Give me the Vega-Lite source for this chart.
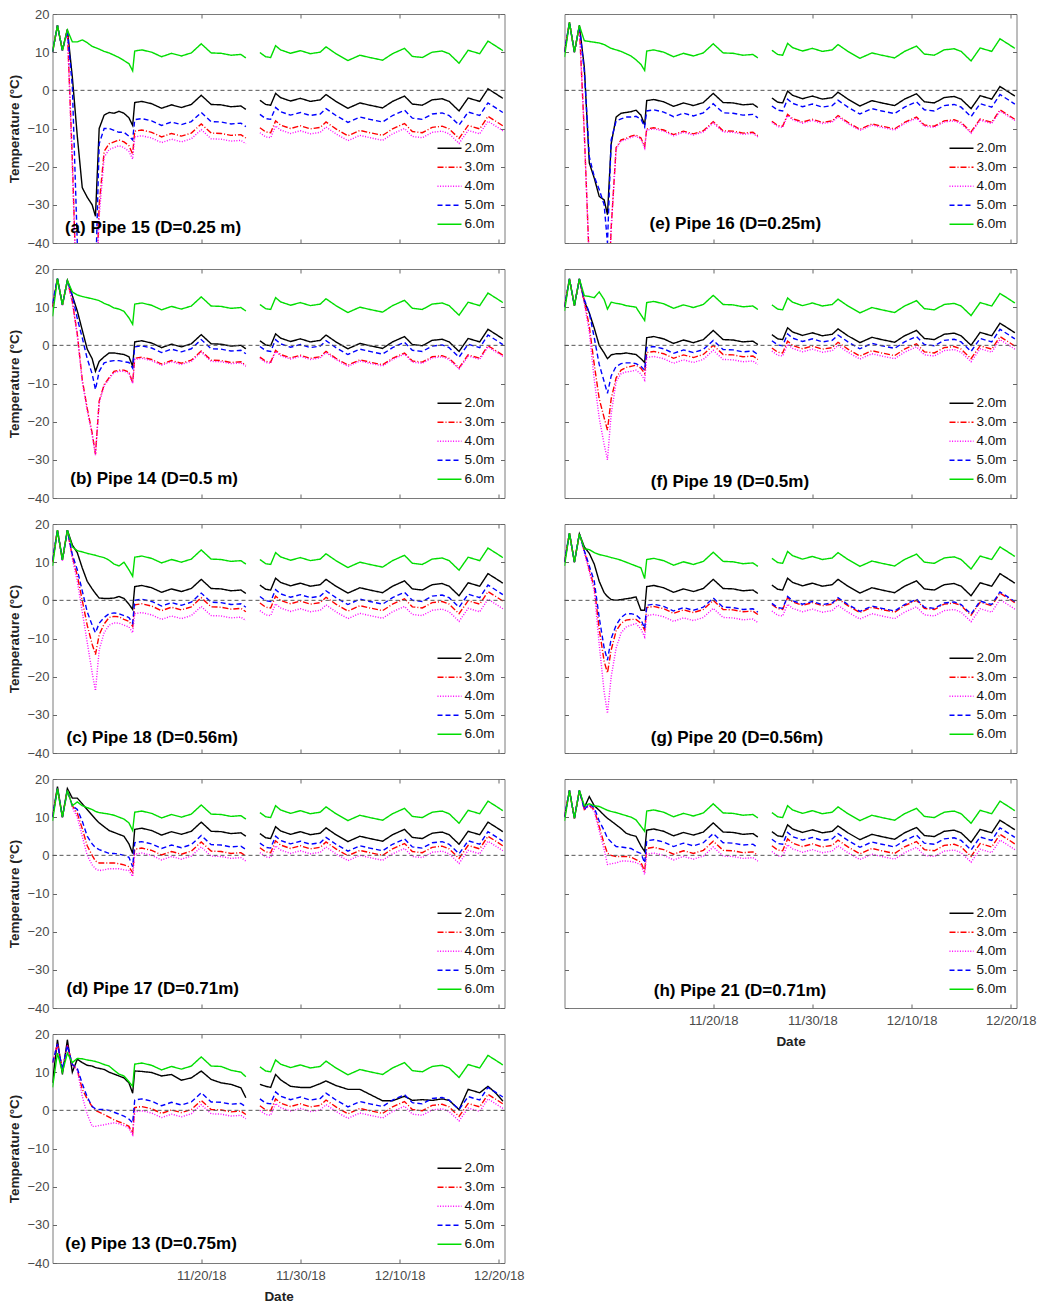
{
"$schema":"https://vega.github.io/schema/vega-lite/v6.json",
"padding":{"left":6.5,"top":7,"right":5,"bottom":5},
"config":{
"font":"Liberation Sans",
"view":{"stroke":"#7a7a7a","strokeWidth":1},
"axis":{"grid":false,"domain":false,"tickColor":"#666666","tickSize":-4,"labelPadding":7.5,"labelFont":"Liberation Sans","labelFontSize":13,"labelColor":"#4a4a4a","titleFont":"Liberation Sans","titleFontSize":13.5,"titleFontWeight":"bold","titleColor":"#222222","titlePadding":5},
"axisX":{"labelPadding":10,"titlePadding":7},
"legend":{"orient":"bottom-right","offset":9,"padding":0,"symbolType":"stroke","symbolSize":576,"symbolStrokeWidth":1.5,"labelFontSize":13.5,"labelFont":"Liberation Sans","labelColor":"#111111","rowPadding":0,"clipHeight":18.4,"labelOffset":2}
},
"datasets":{
"p15":[
{"t":"2018-11-05T00:00","m2":10,"m3":10,"m4":10,"m5":10,"m6":10},
{"t":"2018-11-05T12:00","m2":17,"m3":17,"m4":17,"m5":17,"m6":17},
{"t":"2018-11-06T00:00","m2":10.5,"m3":10.5,"m4":10.5,"m5":10.5,"m6":10.5},
{"t":"2018-11-06T12:00","m2":16,"m3":15.8,"m4":15.5,"m5":15.5,"m6":15.8},
{"t":"2018-11-07T00:00","m2":3.5,"m3":-18,"m4":-20,"m5":1,"m6":12.7},
{"t":"2018-11-07T12:00","m2":-12,"m3":-60,"m4":-60,"m5":-40,"m6":12.7},
{"t":"2018-11-08T00:00","m2":-25.5,"m3":-60,"m4":-60,"m5":-60,"m6":13.2},
{"t":"2018-11-08T12:00","m2":-28,"m3":-60,"m4":-60,"m5":-60,"m6":12.5},
{"t":"2018-11-09T00:00","m2":-30,"m3":-60,"m4":-60,"m5":-60,"m6":11.5},
{"t":"2018-11-09T08:00","m2":-33,"m3":-60,"m4":-60,"m5":-50,"m6":11.2},
{"t":"2018-11-09T17:00","m2":-10,"m3":-30,"m4":-33,"m5":-14,"m6":10.8},
{"t":"2018-11-10T05:00","m2":-6.5,"m3":-16,"m4":-17.5,"m5":-10,"m6":10.2},
{"t":"2018-11-10T17:00","m2":-5.8,"m3":-14,"m4":-15.5,"m5":-10,"m6":9.8},
{"t":"2018-11-11T05:00","m2":-6,"m3":-13.5,"m4":-15,"m5":-10.5,"m6":9.2},
{"t":"2018-11-11T17:00","m2":-5.5,"m3":-13,"m4":-14.5,"m5":-11,"m6":8.6},
{"t":"2018-11-12T05:00","m2":-6,"m3":-13.5,"m4":-15,"m5":-11,"m6":7.8},
{"t":"2018-11-12T17:00","m2":-7.2,"m3":-14.5,"m4":-16,"m5":-12,"m6":7},
{"t":"2018-11-13T02:00","m2":-9.2,"m3":-16.7,"m4":-18,"m5":-13,"m6":5.1},
{"t":"2018-11-13T07:00","m2":-3.2,"m3":-10.7,"m4":-12.2,"m5":-7.7,"m6":10.3},
{"t":"2018-11-14T00:00","m2":-2.9,"m3":-10.4,"m4":-11.9,"m5":-7.4,"m6":10.6},
{"t":"2018-11-15T00:00","m2":-3.5,"m3":-11,"m4":-12.5,"m5":-8,"m6":10},
{"t":"2018-11-16T00:00","m2":-4.7,"m3":-12.2,"m4":-13.7,"m5":-9.2,"m6":8.8},
{"t":"2018-11-17T00:00","m2":-3.8,"m3":-11.3,"m4":-12.8,"m5":-8.3,"m6":9.7},
{"t":"2018-11-18T00:00","m2":-4.5,"m3":-12,"m4":-13.5,"m5":-9,"m6":9},
{"t":"2018-11-19T00:00","m2":-3.7,"m3":-11.2,"m4":-12.7,"m5":-8.2,"m6":9.8},
{"t":"2018-11-20T00:00","m2":-1.3,"m3":-8.8,"m4":-10.3,"m5":-5.8,"m6":12.2},
{"t":"2018-11-21T00:00","m2":-3.7,"m3":-11.2,"m4":-12.7,"m5":-8.2,"m6":9.8},
{"t":"2018-11-22T00:00","m2":-3.8,"m3":-11.3,"m4":-12.8,"m5":-8.3,"m6":9.7},
{"t":"2018-11-23T00:00","m2":-4.3,"m3":-11.8,"m4":-13.3,"m5":-8.8,"m6":9.2},
{"t":"2018-11-24T00:00","m2":-4.1,"m3":-11.6,"m4":-13.1,"m5":-8.6,"m6":9.4},
{"t":"2018-11-24T12:00","m2":-5,"m3":-12.5,"m4":-14,"m5":-9.5,"m6":8.5},
{"t":"2018-11-25T05:00","m2":null,"m3":null,"m4":null,"m5":null,"m6":null},
{"t":"2018-11-25T22:00","m2":-2.6,"m3":-9.8,"m4":-11.1,"m5":-6.3,"m6":9.9},
{"t":"2018-11-26T12:00","m2":-3.7,"m3":-10.9,"m4":-12.2,"m5":-7.4,"m6":8.8},
{"t":"2018-11-27T00:00","m2":-3.9,"m3":-11.1,"m4":-12.4,"m5":-7.6,"m6":8.6},
{"t":"2018-11-27T12:00","m2":-0.8,"m3":-8,"m4":-9.3,"m5":-4.5,"m6":11.7},
{"t":"2018-11-28T00:00","m2":-1.9,"m3":-9.1,"m4":-10.4,"m5":-5.6,"m6":10.6},
{"t":"2018-11-29T00:00","m2":-2.8,"m3":-10,"m4":-11.3,"m5":-6.5,"m6":9.7},
{"t":"2018-11-30T00:00","m2":-2.1,"m3":-9.3,"m4":-10.6,"m5":-5.8,"m6":10.4},
{"t":"2018-12-01T00:00","m2":-2.9,"m3":-10.1,"m4":-11.4,"m5":-6.6,"m6":9.6},
{"t":"2018-12-02T00:00","m2":-2.5,"m3":-9.7,"m4":-11,"m5":-6.2,"m6":10},
{"t":"2018-12-02T14:00","m2":-1.1,"m3":-8.3,"m4":-9.6,"m5":-4.8,"m6":11.4},
{"t":"2018-12-03T14:00","m2":-2.9,"m3":-10.1,"m4":-11.4,"m5":-6.6,"m6":9.6},
{"t":"2018-12-04T19:00","m2":-4.7,"m3":-11.9,"m4":-13.2,"m5":-8.4,"m6":7.8},
{"t":"2018-12-06T00:00","m2":-3.3,"m3":-10.5,"m4":-11.8,"m5":-7,"m6":9.2},
{"t":"2018-12-07T00:00","m2":-3.9,"m3":-11.1,"m4":-12.4,"m5":-7.6,"m6":8.6},
{"t":"2018-12-08T07:00","m2":-4.6,"m3":-11.8,"m4":-13.1,"m5":-8.3,"m6":7.9},
{"t":"2018-12-09T07:00","m2":-2.9,"m3":-10.1,"m4":-11.4,"m5":-6.6,"m6":9.6},
{"t":"2018-12-10T12:00","m2":-1.5,"m3":-8.7,"m4":-10,"m5":-5.2,"m6":11},
{"t":"2018-12-11T07:00","m2":-3.6,"m3":-10.8,"m4":-12.1,"m5":-7.3,"m6":8.9},
{"t":"2018-12-12T07:00","m2":-3.9,"m3":-11.1,"m4":-12.4,"m5":-7.6,"m6":8.6},
{"t":"2018-12-13T07:00","m2":-2.5,"m3":-9.7,"m4":-11,"m5":-6.2,"m6":10},
{"t":"2018-12-14T07:00","m2":-2.2,"m3":-9.4,"m4":-10.7,"m5":-5.9,"m6":10.3},
{"t":"2018-12-15T00:00","m2":-2.9,"m3":-10.1,"m4":-11.4,"m5":-6.6,"m6":9.6},
{"t":"2018-12-16T00:00","m2":-5.4,"m3":-12.6,"m4":-13.9,"m5":-9.1,"m6":7.1},
{"t":"2018-12-16T22:00","m2":-2,"m3":-9.2,"m4":-10.5,"m5":-5.7,"m6":10.5},
{"t":"2018-12-18T02:00","m2":-2.9,"m3":-10.1,"m4":-11.4,"m5":-6.6,"m6":9.6},
{"t":"2018-12-18T22:00","m2":0.4,"m3":-6.8,"m4":-8.1,"m5":-3.3,"m6":12.9},
{"t":"2018-12-19T17:00","m2":-0.9,"m3":-8.1,"m4":-9.4,"m5":-4.6,"m6":11.6},
{"t":"2018-12-20T10:00","m2":-2.1,"m3":-9.3,"m4":-10.6,"m5":-5.8,"m6":10.4}
],
"p14":[
{"t":"2018-11-05T00:00","m2":10,"m3":10,"m4":10,"m5":11,"m6":7.6},
{"t":"2018-11-05T12:00","m2":17.5,"m3":17.5,"m4":17.3,"m5":17.5,"m6":17.5},
{"t":"2018-11-06T00:00","m2":10.6,"m3":10.6,"m4":10.5,"m5":10.6,"m6":10.6},
{"t":"2018-11-06T12:00","m2":17,"m3":17,"m4":16.8,"m5":17,"m6":17},
{"t":"2018-11-07T00:00","m2":13,"m3":11.5,"m4":11.2,"m5":13,"m6":14},
{"t":"2018-11-07T12:00","m2":9,"m3":3,"m4":2.6,"m5":7,"m6":13.2},
{"t":"2018-11-08T00:00","m2":4,"m3":-9,"m4":-9.5,"m5":2,"m6":12.8},
{"t":"2018-11-08T12:00","m2":-1,"m3":-16.5,"m4":-17,"m5":-3.5,"m6":12.5},
{"t":"2018-11-09T00:00","m2":-3.5,"m3":-23,"m4":-23.5,"m5":-7.5,"m6":12.2},
{"t":"2018-11-09T08:00","m2":-6.8,"m3":-28.5,"m4":-28.8,"m5":-11.6,"m6":12},
{"t":"2018-11-09T17:00","m2":-4.2,"m3":-14.6,"m4":-15,"m5":-6.8,"m6":11.7},
{"t":"2018-11-10T05:00","m2":-3,"m3":-10.3,"m4":-10.6,"m5":-4.6,"m6":11},
{"t":"2018-11-10T17:00","m2":-2,"m3":-8.5,"m4":-8.8,"m5":-4.2,"m6":10.5},
{"t":"2018-11-11T05:00","m2":-2,"m3":-6.8,"m4":-7.1,"m5":-4,"m6":9.8},
{"t":"2018-11-11T17:00","m2":-2.2,"m3":-6.5,"m4":-6.8,"m5":-4,"m6":9.5},
{"t":"2018-11-12T05:00","m2":-2.4,"m3":-6.5,"m4":-6.8,"m5":-4.3,"m6":8.9},
{"t":"2018-11-12T17:00","m2":-3,"m3":-7,"m4":-7.3,"m5":-4.5,"m6":7.2},
{"t":"2018-11-13T02:00","m2":-5.5,"m3":-9.8,"m4":-10,"m5":-6,"m6":5.5},
{"t":"2018-11-13T07:00","m2":0.9,"m3":-3.4,"m4":-3.7,"m5":-0.4,"m6":10.8},
{"t":"2018-11-14T00:00","m2":1.2,"m3":-3.1,"m4":-3.4,"m5":-0.1,"m6":11.1},
{"t":"2018-11-15T00:00","m2":0.6,"m3":-3.7,"m4":-4,"m5":-0.7,"m6":10.5},
{"t":"2018-11-16T00:00","m2":-0.6,"m3":-4.9,"m4":-5.2,"m5":-1.9,"m6":9.3},
{"t":"2018-11-17T00:00","m2":0.3,"m3":-4,"m4":-4.3,"m5":-1,"m6":10.2},
{"t":"2018-11-18T00:00","m2":-0.4,"m3":-4.7,"m4":-5,"m5":-1.7,"m6":9.5},
{"t":"2018-11-19T00:00","m2":0.4,"m3":-3.9,"m4":-4.2,"m5":-0.9,"m6":10.3},
{"t":"2018-11-20T00:00","m2":2.8,"m3":-1.5,"m4":-1.8,"m5":1.5,"m6":12.7},
{"t":"2018-11-21T00:00","m2":0.4,"m3":-3.9,"m4":-4.2,"m5":-0.9,"m6":10.3},
{"t":"2018-11-22T00:00","m2":0.3,"m3":-4,"m4":-4.3,"m5":-1,"m6":10.2},
{"t":"2018-11-23T00:00","m2":-0.2,"m3":-4.5,"m4":-4.8,"m5":-1.5,"m6":9.7},
{"t":"2018-11-24T00:00","m2":0,"m3":-4.3,"m4":-4.6,"m5":-1.3,"m6":9.9},
{"t":"2018-11-24T12:00","m2":-0.9,"m3":-5.2,"m4":-5.5,"m5":-2.2,"m6":9},
{"t":"2018-11-25T05:00","m2":null,"m3":null,"m4":null,"m5":null,"m6":null},
{"t":"2018-11-25T22:00","m2":1.2,"m3":-3.1,"m4":-3.4,"m5":-0.3,"m6":10.7},
{"t":"2018-11-26T12:00","m2":0.1,"m3":-4.2,"m4":-4.5,"m5":-1.4,"m6":9.6},
{"t":"2018-11-27T00:00","m2":-0.1,"m3":-4.4,"m4":-4.7,"m5":-1.6,"m6":9.4},
{"t":"2018-11-27T12:00","m2":3,"m3":-1.3,"m4":-1.6,"m5":1.5,"m6":12.5},
{"t":"2018-11-28T00:00","m2":1.9,"m3":-2.4,"m4":-2.7,"m5":0.4,"m6":11.4},
{"t":"2018-11-29T00:00","m2":1,"m3":-3.3,"m4":-3.6,"m5":-0.5,"m6":10.5},
{"t":"2018-11-30T00:00","m2":1.7,"m3":-2.6,"m4":-2.9,"m5":0.2,"m6":11.2},
{"t":"2018-12-01T00:00","m2":0.9,"m3":-3.4,"m4":-3.7,"m5":-0.6,"m6":10.4},
{"t":"2018-12-02T00:00","m2":1.3,"m3":-3,"m4":-3.3,"m5":-0.2,"m6":10.8},
{"t":"2018-12-02T14:00","m2":2.7,"m3":-1.6,"m4":-1.9,"m5":1.2,"m6":12.2},
{"t":"2018-12-03T14:00","m2":0.9,"m3":-3.4,"m4":-3.7,"m5":-0.6,"m6":10.4},
{"t":"2018-12-04T19:00","m2":-0.9,"m3":-5.2,"m4":-5.5,"m5":-2.4,"m6":8.6},
{"t":"2018-12-06T00:00","m2":0.5,"m3":-3.8,"m4":-4.1,"m5":-1,"m6":10},
{"t":"2018-12-07T00:00","m2":-0.1,"m3":-4.4,"m4":-4.7,"m5":-1.6,"m6":9.4},
{"t":"2018-12-08T07:00","m2":-0.8,"m3":-5.1,"m4":-5.4,"m5":-2.3,"m6":8.7},
{"t":"2018-12-09T07:00","m2":0.9,"m3":-3.4,"m4":-3.7,"m5":-0.6,"m6":10.4},
{"t":"2018-12-10T12:00","m2":2.3,"m3":-2,"m4":-2.3,"m5":0.8,"m6":11.8},
{"t":"2018-12-11T07:00","m2":0.2,"m3":-4.1,"m4":-4.4,"m5":-1.3,"m6":9.7},
{"t":"2018-12-12T07:00","m2":-0.1,"m3":-4.4,"m4":-4.7,"m5":-1.6,"m6":9.4},
{"t":"2018-12-13T07:00","m2":1.3,"m3":-3,"m4":-3.3,"m5":-0.2,"m6":10.8},
{"t":"2018-12-14T07:00","m2":1.6,"m3":-2.7,"m4":-3,"m5":0.1,"m6":11.1},
{"t":"2018-12-15T00:00","m2":0.9,"m3":-3.4,"m4":-3.7,"m5":-0.6,"m6":10.4},
{"t":"2018-12-16T00:00","m2":-1.6,"m3":-5.9,"m4":-6.2,"m5":-3.1,"m6":7.9},
{"t":"2018-12-16T22:00","m2":1.8,"m3":-2.5,"m4":-2.8,"m5":0.3,"m6":11.3},
{"t":"2018-12-18T02:00","m2":0.9,"m3":-3.4,"m4":-3.7,"m5":-0.6,"m6":10.4},
{"t":"2018-12-18T22:00","m2":4.2,"m3":-0.1,"m4":-0.4,"m5":2.7,"m6":13.7},
{"t":"2018-12-19T17:00","m2":2.9,"m3":-1.4,"m4":-1.7,"m5":1.4,"m6":12.4},
{"t":"2018-12-20T10:00","m2":1.7,"m3":-2.6,"m4":-2.9,"m5":0.2,"m6":11.2}
],
"p18":[
{"t":"2018-11-05T00:00","m2":10,"m3":10,"m4":10,"m5":10.5,"m6":9},
{"t":"2018-11-05T12:00","m2":18.4,"m3":18.4,"m4":18,"m5":18.4,"m6":18.4},
{"t":"2018-11-06T00:00","m2":10.6,"m3":10.6,"m4":10.4,"m5":10.6,"m6":10.6},
{"t":"2018-11-06T12:00","m2":18.4,"m3":18.4,"m4":18,"m5":18.4,"m6":18.4},
{"t":"2018-11-07T00:00","m2":14.5,"m3":11.5,"m4":11,"m5":12,"m6":14},
{"t":"2018-11-07T12:00","m2":12.5,"m3":6.5,"m4":5,"m5":8,"m6":13},
{"t":"2018-11-08T00:00","m2":8.5,"m3":0,"m4":-3,"m5":2.5,"m6":12.7},
{"t":"2018-11-08T12:00","m2":5,"m3":-6.5,"m4":-11,"m5":-3,"m6":12.3},
{"t":"2018-11-09T00:00","m2":3,"m3":-11.5,"m4":-19,"m5":-6.5,"m6":12},
{"t":"2018-11-09T08:00","m2":1.8,"m3":-14.2,"m4":-23.7,"m5":-8.5,"m6":11.8},
{"t":"2018-11-09T17:00","m2":0.6,"m3":-9,"m4":-13,"m5":-6,"m6":11.5},
{"t":"2018-11-10T05:00","m2":0.5,"m3":-6.2,"m4":-8.5,"m5":-4.5,"m6":11.2},
{"t":"2018-11-10T17:00","m2":0.5,"m3":-4.5,"m4":-6.5,"m5":-3.5,"m6":10.5},
{"t":"2018-11-11T05:00","m2":0.6,"m3":-4.2,"m4":-5.9,"m5":-3.3,"m6":9.5},
{"t":"2018-11-11T17:00","m2":1,"m3":-4.3,"m4":-6,"m5":-3.5,"m6":9},
{"t":"2018-11-12T05:00","m2":0.5,"m3":-5,"m4":-6.5,"m5":-4,"m6":10},
{"t":"2018-11-12T17:00","m2":-1,"m3":-5.5,"m4":-7,"m5":-4.5,"m6":8},
{"t":"2018-11-13T02:00","m2":-2.4,"m3":-6.8,"m4":-8.5,"m5":-6,"m6":6.3},
{"t":"2018-11-13T07:00","m2":3.6,"m3":-1.2,"m4":-3.5,"m5":0,"m6":11.3},
{"t":"2018-11-14T00:00","m2":3.9,"m3":-0.9,"m4":-3.2,"m5":0.3,"m6":11.6},
{"t":"2018-11-15T00:00","m2":3.3,"m3":-1.5,"m4":-3.8,"m5":-0.3,"m6":11},
{"t":"2018-11-16T00:00","m2":2.1,"m3":-2.7,"m4":-5,"m5":-1.5,"m6":9.8},
{"t":"2018-11-17T00:00","m2":3,"m3":-1.8,"m4":-4.1,"m5":-0.6,"m6":10.7},
{"t":"2018-11-18T00:00","m2":2.3,"m3":-2.5,"m4":-4.8,"m5":-1.3,"m6":10},
{"t":"2018-11-19T00:00","m2":3.1,"m3":-1.7,"m4":-4,"m5":-0.5,"m6":10.8},
{"t":"2018-11-20T00:00","m2":5.5,"m3":0.7,"m4":-1.6,"m5":1.9,"m6":13.2},
{"t":"2018-11-21T00:00","m2":3.1,"m3":-1.7,"m4":-4,"m5":-0.5,"m6":10.8},
{"t":"2018-11-22T00:00","m2":3,"m3":-1.8,"m4":-4.1,"m5":-0.6,"m6":10.7},
{"t":"2018-11-23T00:00","m2":2.5,"m3":-2.3,"m4":-4.6,"m5":-1.1,"m6":10.2},
{"t":"2018-11-24T00:00","m2":2.7,"m3":-2.1,"m4":-4.4,"m5":-0.9,"m6":10.4},
{"t":"2018-11-24T12:00","m2":1.8,"m3":-3,"m4":-5.3,"m5":-1.8,"m6":9.5},
{"t":"2018-11-25T05:00","m2":null,"m3":null,"m4":null,"m5":null,"m6":null},
{"t":"2018-11-25T22:00","m2":4,"m3":-0.7,"m4":-2.7,"m5":1,"m6":10.7},
{"t":"2018-11-26T12:00","m2":2.9,"m3":-1.8,"m4":-3.8,"m5":-0.1,"m6":9.6},
{"t":"2018-11-27T00:00","m2":2.7,"m3":-2,"m4":-4,"m5":-0.3,"m6":9.4},
{"t":"2018-11-27T12:00","m2":5.8,"m3":1.1,"m4":-0.9,"m5":2.8,"m6":12.5},
{"t":"2018-11-28T00:00","m2":4.7,"m3":0,"m4":-2,"m5":1.7,"m6":11.4},
{"t":"2018-11-29T00:00","m2":3.8,"m3":-0.9,"m4":-2.9,"m5":0.8,"m6":10.5},
{"t":"2018-11-30T00:00","m2":4.5,"m3":-0.2,"m4":-2.2,"m5":1.5,"m6":11.2},
{"t":"2018-12-01T00:00","m2":3.7,"m3":-1,"m4":-3,"m5":0.7,"m6":10.4},
{"t":"2018-12-02T00:00","m2":4.1,"m3":-0.6,"m4":-2.6,"m5":1.1,"m6":10.8},
{"t":"2018-12-02T14:00","m2":5.5,"m3":0.8,"m4":-1.2,"m5":2.5,"m6":12.2},
{"t":"2018-12-03T14:00","m2":3.7,"m3":-1,"m4":-3,"m5":0.7,"m6":10.4},
{"t":"2018-12-04T19:00","m2":1.9,"m3":-2.8,"m4":-4.8,"m5":-1.1,"m6":8.6},
{"t":"2018-12-06T00:00","m2":3.3,"m3":-1.4,"m4":-3.4,"m5":0.3,"m6":10},
{"t":"2018-12-07T00:00","m2":2.7,"m3":-2,"m4":-4,"m5":-0.3,"m6":9.4},
{"t":"2018-12-08T07:00","m2":2,"m3":-2.7,"m4":-4.7,"m5":-1,"m6":8.7},
{"t":"2018-12-09T07:00","m2":3.7,"m3":-1,"m4":-3,"m5":0.7,"m6":10.4},
{"t":"2018-12-10T12:00","m2":5.1,"m3":0.4,"m4":-1.6,"m5":2.1,"m6":11.8},
{"t":"2018-12-11T07:00","m2":3,"m3":-1.7,"m4":-3.7,"m5":0,"m6":9.7},
{"t":"2018-12-12T07:00","m2":2.7,"m3":-2,"m4":-4,"m5":-0.3,"m6":9.4},
{"t":"2018-12-13T07:00","m2":4.1,"m3":-0.6,"m4":-2.6,"m5":1.1,"m6":10.8},
{"t":"2018-12-14T07:00","m2":4.4,"m3":-0.3,"m4":-2.3,"m5":1.4,"m6":11.1},
{"t":"2018-12-15T00:00","m2":3.7,"m3":-1,"m4":-3,"m5":0.7,"m6":10.4},
{"t":"2018-12-16T00:00","m2":1.2,"m3":-3.5,"m4":-5.5,"m5":-1.8,"m6":7.9},
{"t":"2018-12-16T22:00","m2":4.6,"m3":-0.1,"m4":-2.1,"m5":1.6,"m6":11.3},
{"t":"2018-12-18T02:00","m2":3.7,"m3":-1,"m4":-3,"m5":0.7,"m6":10.4},
{"t":"2018-12-18T22:00","m2":7,"m3":2.3,"m4":0.3,"m5":4,"m6":13.7},
{"t":"2018-12-19T17:00","m2":5.7,"m3":1,"m4":-1,"m5":2.7,"m6":12.4},
{"t":"2018-12-20T10:00","m2":4.5,"m3":-0.2,"m4":-2.2,"m5":1.5,"m6":11.2}
],
"p17":[
{"t":"2018-11-05T00:00","m2":10,"m3":10,"m4":10,"m5":10,"m6":9},
{"t":"2018-11-05T12:00","m2":18,"m3":17.5,"m4":17.5,"m5":17.5,"m6":17.5},
{"t":"2018-11-06T00:00","m2":10,"m3":10,"m4":10,"m5":10,"m6":10},
{"t":"2018-11-06T12:00","m2":17.5,"m3":17,"m4":17,"m5":17,"m6":17},
{"t":"2018-11-07T00:00","m2":15,"m3":13,"m4":12.5,"m5":13,"m6":13},
{"t":"2018-11-07T12:00","m2":15,"m3":11,"m4":10,"m5":12,"m6":14},
{"t":"2018-11-08T00:00","m2":13.5,"m3":7,"m4":5,"m5":9,"m6":13},
{"t":"2018-11-08T12:00","m2":12,"m3":2.5,"m4":0,"m5":5,"m6":12.5},
{"t":"2018-11-09T00:00","m2":10.5,"m3":0,"m4":-2.5,"m5":3,"m6":12},
{"t":"2018-11-09T08:00","m2":9.5,"m3":-1.5,"m4":-3.5,"m5":2,"m6":11.5},
{"t":"2018-11-09T17:00","m2":8.5,"m3":-2,"m4":-4,"m5":1.5,"m6":11.2},
{"t":"2018-11-10T05:00","m2":7.5,"m3":-2,"m4":-3.8,"m5":1,"m6":11},
{"t":"2018-11-10T17:00","m2":6.5,"m3":-2,"m4":-3.5,"m5":0.5,"m6":10.8},
{"t":"2018-11-11T05:00","m2":6,"m3":-2,"m4":-3.5,"m5":0.5,"m6":10.5},
{"t":"2018-11-11T17:00","m2":5.5,"m3":-2.2,"m4":-3.5,"m5":0.3,"m6":10},
{"t":"2018-11-12T05:00","m2":5,"m3":-2.5,"m4":-3.8,"m5":0,"m6":9.5},
{"t":"2018-11-12T17:00","m2":3,"m3":-3,"m4":-4,"m5":-0.5,"m6":8.5},
{"t":"2018-11-13T02:00","m2":0.5,"m3":-4.5,"m4":-5.5,"m5":-3,"m6":6.5},
{"t":"2018-11-13T07:00","m2":6.8,"m3":1.6,"m4":0.3,"m5":3.3,"m6":11.3},
{"t":"2018-11-14T00:00","m2":7.1,"m3":1.9,"m4":0.6,"m5":3.6,"m6":11.6},
{"t":"2018-11-15T00:00","m2":6.5,"m3":1.3,"m4":0,"m5":3,"m6":11},
{"t":"2018-11-16T00:00","m2":5.3,"m3":0.1,"m4":-1.2,"m5":1.8,"m6":9.8},
{"t":"2018-11-17T00:00","m2":6.2,"m3":1,"m4":-0.3,"m5":2.7,"m6":10.7},
{"t":"2018-11-18T00:00","m2":5.5,"m3":0.3,"m4":-1,"m5":2,"m6":10},
{"t":"2018-11-19T00:00","m2":6.3,"m3":1.1,"m4":-0.2,"m5":2.8,"m6":10.8},
{"t":"2018-11-20T00:00","m2":8.7,"m3":3.5,"m4":2.2,"m5":5.2,"m6":13.2},
{"t":"2018-11-21T00:00","m2":6.3,"m3":1.1,"m4":-0.2,"m5":2.8,"m6":10.8},
{"t":"2018-11-22T00:00","m2":6.2,"m3":1,"m4":-0.3,"m5":2.7,"m6":10.7},
{"t":"2018-11-23T00:00","m2":5.7,"m3":0.5,"m4":-0.8,"m5":2.2,"m6":10.2},
{"t":"2018-11-24T00:00","m2":5.9,"m3":0.7,"m4":-0.6,"m5":2.4,"m6":10.4},
{"t":"2018-11-24T12:00","m2":5,"m3":-0.2,"m4":-1.5,"m5":1.5,"m6":9.5},
{"t":"2018-11-25T05:00","m2":null,"m3":null,"m4":null,"m5":null,"m6":null},
{"t":"2018-11-25T22:00","m2":5.7,"m3":2,"m4":0.7,"m5":3.2,"m6":11.2},
{"t":"2018-11-26T12:00","m2":4.6,"m3":0.9,"m4":-0.4,"m5":2.1,"m6":10.1},
{"t":"2018-11-27T00:00","m2":4.4,"m3":0.7,"m4":-0.6,"m5":1.9,"m6":9.9},
{"t":"2018-11-27T12:00","m2":7.5,"m3":3.8,"m4":2.5,"m5":5,"m6":13},
{"t":"2018-11-28T00:00","m2":6.4,"m3":2.7,"m4":1.4,"m5":3.9,"m6":11.9},
{"t":"2018-11-29T00:00","m2":5.5,"m3":1.8,"m4":0.5,"m5":3,"m6":11},
{"t":"2018-11-30T00:00","m2":6.2,"m3":2.5,"m4":1.2,"m5":3.7,"m6":11.7},
{"t":"2018-12-01T00:00","m2":5.4,"m3":1.7,"m4":0.4,"m5":2.9,"m6":10.9},
{"t":"2018-12-02T00:00","m2":5.8,"m3":2.1,"m4":0.8,"m5":3.3,"m6":11.3},
{"t":"2018-12-02T14:00","m2":7.2,"m3":3.5,"m4":2.2,"m5":4.7,"m6":12.7},
{"t":"2018-12-03T14:00","m2":5.4,"m3":1.7,"m4":0.4,"m5":2.9,"m6":10.9},
{"t":"2018-12-04T19:00","m2":3.6,"m3":-0.1,"m4":-1.4,"m5":1.1,"m6":9.1},
{"t":"2018-12-06T00:00","m2":5,"m3":1.3,"m4":0,"m5":2.5,"m6":10.5},
{"t":"2018-12-07T00:00","m2":4.4,"m3":0.7,"m4":-0.6,"m5":1.9,"m6":9.9},
{"t":"2018-12-08T07:00","m2":3.7,"m3":0,"m4":-1.3,"m5":1.2,"m6":9.2},
{"t":"2018-12-09T07:00","m2":5.4,"m3":1.7,"m4":0.4,"m5":2.9,"m6":10.9},
{"t":"2018-12-10T12:00","m2":6.8,"m3":3.1,"m4":1.8,"m5":4.3,"m6":12.3},
{"t":"2018-12-11T07:00","m2":4.7,"m3":1,"m4":-0.3,"m5":2.2,"m6":10.2},
{"t":"2018-12-12T07:00","m2":4.4,"m3":0.7,"m4":-0.6,"m5":1.9,"m6":9.9},
{"t":"2018-12-13T07:00","m2":5.8,"m3":2.1,"m4":0.8,"m5":3.3,"m6":11.3},
{"t":"2018-12-14T07:00","m2":6.1,"m3":2.4,"m4":1.1,"m5":3.6,"m6":11.6},
{"t":"2018-12-15T00:00","m2":5.4,"m3":1.7,"m4":0.4,"m5":2.9,"m6":10.9},
{"t":"2018-12-16T00:00","m2":2.9,"m3":-0.8,"m4":-2.1,"m5":0.4,"m6":8.4},
{"t":"2018-12-16T22:00","m2":6.3,"m3":2.6,"m4":1.3,"m5":3.8,"m6":11.8},
{"t":"2018-12-18T02:00","m2":5.4,"m3":1.7,"m4":0.4,"m5":2.9,"m6":10.9},
{"t":"2018-12-18T22:00","m2":8.7,"m3":5,"m4":3.7,"m5":6.2,"m6":14.2},
{"t":"2018-12-19T17:00","m2":7.4,"m3":3.7,"m4":2.4,"m5":4.9,"m6":12.9},
{"t":"2018-12-20T10:00","m2":6.2,"m3":2.5,"m4":1.2,"m5":3.7,"m6":11.7}
],
"p13":[
{"t":"2018-11-05T00:00","m2":7.2,"m3":12.5,"m4":12.5,"m5":12.5,"m6":6},
{"t":"2018-11-05T12:00","m2":18.5,"m3":17.4,"m4":17.4,"m5":17.4,"m6":15},
{"t":"2018-11-06T00:00","m2":9.4,"m3":10.7,"m4":10.7,"m5":10.7,"m6":10},
{"t":"2018-11-06T12:00","m2":18.5,"m3":17,"m4":17,"m5":17,"m6":15},
{"t":"2018-11-07T00:00","m2":10,"m3":12,"m4":12,"m5":12,"m6":12.5},
{"t":"2018-11-07T12:00","m2":13.4,"m3":10.7,"m4":10.5,"m5":11,"m6":13.6},
{"t":"2018-11-08T00:00","m2":12.5,"m3":5.5,"m4":3.7,"m5":7,"m6":13.5},
{"t":"2018-11-08T12:00","m2":11.8,"m3":3,"m4":-1,"m5":3.5,"m6":13.2},
{"t":"2018-11-09T00:00","m2":11.6,"m3":1,"m4":-4.2,"m5":1,"m6":13},
{"t":"2018-11-09T08:00","m2":11.2,"m3":0,"m4":-4.2,"m5":0.4,"m6":12.8},
{"t":"2018-11-09T17:00","m2":11,"m3":-0.5,"m4":-4,"m5":0.2,"m6":12.5},
{"t":"2018-11-10T05:00","m2":10.7,"m3":-1.1,"m4":-3.8,"m5":0.2,"m6":12},
{"t":"2018-11-10T17:00","m2":10,"m3":-1.8,"m4":-3.5,"m5":0,"m6":11.6},
{"t":"2018-11-11T05:00","m2":9.5,"m3":-2.5,"m4":-3.3,"m5":-0.5,"m6":10.5},
{"t":"2018-11-11T17:00","m2":9,"m3":-3,"m4":-3.5,"m5":-1,"m6":9.5},
{"t":"2018-11-12T05:00","m2":8.5,"m3":-3.5,"m4":-4,"m5":-1.5,"m6":9},
{"t":"2018-11-12T17:00","m2":7.2,"m3":-4.2,"m4":-4.7,"m5":-2.3,"m6":7.5},
{"t":"2018-11-13T02:00","m2":4.5,"m3":-6,"m4":-6.4,"m5":-3.3,"m6":6.3},
{"t":"2018-11-13T07:00","m2":10.3,"m3":0.7,"m4":-0.4,"m5":2.7,"m6":12.1},
{"t":"2018-11-14T00:00","m2":10.2,"m3":1,"m4":-0.1,"m5":3,"m6":12.4},
{"t":"2018-11-15T00:00","m2":9.9,"m3":0.4,"m4":-0.7,"m5":2.4,"m6":11.8},
{"t":"2018-11-16T00:00","m2":9,"m3":-0.8,"m4":-1.9,"m5":1.2,"m6":10.6},
{"t":"2018-11-17T00:00","m2":9.4,"m3":0.1,"m4":-1,"m5":2.1,"m6":11.5},
{"t":"2018-11-18T00:00","m2":7.9,"m3":-0.6,"m4":-1.7,"m5":1.4,"m6":10.8},
{"t":"2018-11-19T00:00","m2":8.5,"m3":0.2,"m4":-0.9,"m5":2.2,"m6":11.6},
{"t":"2018-11-20T00:00","m2":10.3,"m3":2.6,"m4":1.5,"m5":4.6,"m6":14},
{"t":"2018-11-21T00:00","m2":8.1,"m3":0.2,"m4":-0.9,"m5":2.2,"m6":11.6},
{"t":"2018-11-22T00:00","m2":7.2,"m3":0.1,"m4":-1,"m5":2.1,"m6":11.5},
{"t":"2018-11-23T00:00","m2":6.8,"m3":-0.4,"m4":-1.5,"m5":1.6,"m6":10.5},
{"t":"2018-11-24T00:00","m2":5.9,"m3":-0.2,"m4":-1.3,"m5":1.8,"m6":10},
{"t":"2018-11-24T12:00","m2":3.3,"m3":-1.1,"m4":-2.2,"m5":0.9,"m6":8.8},
{"t":"2018-11-25T05:00","m2":null,"m3":null,"m4":null,"m5":null,"m6":null},
{"t":"2018-11-25T22:00","m2":6.8,"m3":1.2,"m4":0,"m5":3,"m6":11.4},
{"t":"2018-11-26T12:00","m2":6.3,"m3":0.1,"m4":-1.1,"m5":1.9,"m6":10.3},
{"t":"2018-11-27T00:00","m2":6,"m3":-0.1,"m4":-1.3,"m5":1.7,"m6":10.1},
{"t":"2018-11-27T12:00","m2":9.4,"m3":3,"m4":1.8,"m5":4.8,"m6":13.2},
{"t":"2018-11-28T00:00","m2":8,"m3":1.9,"m4":0.7,"m5":3.7,"m6":12.1},
{"t":"2018-11-29T00:00","m2":6.3,"m3":1,"m4":-0.2,"m5":2.8,"m6":11.2},
{"t":"2018-11-30T00:00","m2":6,"m3":1.7,"m4":0.5,"m5":3.5,"m6":11.9},
{"t":"2018-12-01T00:00","m2":6,"m3":0.9,"m4":-0.3,"m5":2.7,"m6":11.1},
{"t":"2018-12-02T00:00","m2":7,"m3":1.3,"m4":0.1,"m5":3.1,"m6":11.5},
{"t":"2018-12-02T14:00","m2":7.7,"m3":2.7,"m4":1.5,"m5":4.5,"m6":12.9},
{"t":"2018-12-03T14:00","m2":6.5,"m3":0.9,"m4":-0.3,"m5":2.7,"m6":11.1},
{"t":"2018-12-04T19:00","m2":5.5,"m3":-0.9,"m4":-2.1,"m5":0.9,"m6":9.3},
{"t":"2018-12-06T00:00","m2":5.5,"m3":0.5,"m4":-0.7,"m5":2.3,"m6":10.7},
{"t":"2018-12-07T00:00","m2":4.2,"m3":-0.1,"m4":-1.3,"m5":1.7,"m6":10.1},
{"t":"2018-12-08T07:00","m2":2.5,"m3":-0.8,"m4":-2,"m5":1,"m6":9.4},
{"t":"2018-12-09T07:00","m2":2.5,"m3":0.9,"m4":-0.3,"m5":2.7,"m6":11.1},
{"t":"2018-12-10T12:00","m2":3.7,"m3":2.3,"m4":1.1,"m5":4.1,"m6":12.5},
{"t":"2018-12-11T07:00","m2":2.6,"m3":0.2,"m4":-1,"m5":2,"m6":10.4},
{"t":"2018-12-12T07:00","m2":2.8,"m3":-0.1,"m4":-1.3,"m5":1.7,"m6":10.1},
{"t":"2018-12-13T07:00","m2":2.6,"m3":1.3,"m4":0.1,"m5":3.1,"m6":11.5},
{"t":"2018-12-14T07:00","m2":3,"m3":1.6,"m4":0.4,"m5":3.4,"m6":11.8},
{"t":"2018-12-15T00:00","m2":2.6,"m3":0.9,"m4":-0.3,"m5":2.7,"m6":11.1},
{"t":"2018-12-16T00:00","m2":0.2,"m3":-1.6,"m4":-2.8,"m5":0.2,"m6":8.6},
{"t":"2018-12-16T22:00","m2":5.5,"m3":1.8,"m4":0.6,"m5":3.6,"m6":12},
{"t":"2018-12-18T02:00","m2":4.6,"m3":0.9,"m4":-0.3,"m5":2.7,"m6":11.1},
{"t":"2018-12-18T22:00","m2":6.3,"m3":4.2,"m4":3,"m5":6,"m6":14.4},
{"t":"2018-12-19T17:00","m2":4.5,"m3":2.9,"m4":1.7,"m5":4.7,"m6":13.1},
{"t":"2018-12-20T10:00","m2":2.4,"m3":1.7,"m4":0.5,"m5":3.5,"m6":11.9}
],
"p16":[
{"t":"2018-11-05T00:00","m2":10,"m3":10,"m4":10,"m5":10,"m6":8.7},
{"t":"2018-11-05T12:00","m2":17.8,"m3":17.8,"m4":17.6,"m5":17.8,"m6":17.8},
{"t":"2018-11-06T00:00","m2":10,"m3":10,"m4":10,"m5":10,"m6":10},
{"t":"2018-11-06T12:00","m2":17,"m3":16.8,"m4":16.6,"m5":16.8,"m6":17},
{"t":"2018-11-07T00:00","m2":6,"m3":-11.3,"m4":-11.6,"m5":5,"m6":13},
{"t":"2018-11-07T12:00","m2":-19,"m3":-45,"m4":-45,"m5":-17.4,"m6":12.8},
{"t":"2018-11-08T00:00","m2":-23,"m3":-60,"m4":-60,"m5":-22.6,"m6":12.6},
{"t":"2018-11-08T12:00","m2":-27.8,"m3":-60,"m4":-60,"m5":-26,"m6":12.4},
{"t":"2018-11-09T00:00","m2":-28.7,"m3":-60,"m4":-60,"m5":-30,"m6":12},
{"t":"2018-11-09T08:00","m2":-32.6,"m3":-60,"m4":-60,"m5":-40,"m6":11.5},
{"t":"2018-11-09T17:00","m2":-14,"m3":-36,"m4":-36,"m5":-13,"m6":11},
{"t":"2018-11-10T05:00","m2":-7,"m3":-15,"m4":-15.3,"m5":-8,"m6":10.6},
{"t":"2018-11-10T17:00","m2":-6,"m3":-13,"m4":-13.3,"m5":-7.5,"m6":10.2},
{"t":"2018-11-11T05:00","m2":-5.8,"m3":-12.6,"m4":-12.9,"m5":-7,"m6":9.6},
{"t":"2018-11-11T17:00","m2":-5.6,"m3":-12,"m4":-12.3,"m5":-7,"m6":9},
{"t":"2018-11-12T05:00","m2":-5.2,"m3":-11.7,"m4":-12,"m5":-6.8,"m6":8},
{"t":"2018-11-12T17:00","m2":-6.5,"m3":-12.5,"m4":-12.8,"m5":-7.5,"m6":6.8},
{"t":"2018-11-13T02:00","m2":-9.1,"m3":-14.8,"m4":-15.1,"m5":-9.6,"m6":5.2},
{"t":"2018-11-13T07:00","m2":-2.7,"m3":-10.1,"m4":-10.4,"m5":-5.4,"m6":10.3},
{"t":"2018-11-14T00:00","m2":-2.4,"m3":-9.8,"m4":-10.1,"m5":-5.1,"m6":10.6},
{"t":"2018-11-15T00:00","m2":-3,"m3":-10.4,"m4":-10.7,"m5":-5.7,"m6":10},
{"t":"2018-11-16T00:00","m2":-4.2,"m3":-11.6,"m4":-11.9,"m5":-6.9,"m6":8.8},
{"t":"2018-11-17T00:00","m2":-3.3,"m3":-10.7,"m4":-11,"m5":-6,"m6":9.7},
{"t":"2018-11-18T00:00","m2":-4,"m3":-11.4,"m4":-11.7,"m5":-6.7,"m6":9},
{"t":"2018-11-19T00:00","m2":-3.2,"m3":-10.6,"m4":-10.9,"m5":-5.9,"m6":9.8},
{"t":"2018-11-20T00:00","m2":-0.8,"m3":-8.2,"m4":-8.5,"m5":-3.5,"m6":12.2},
{"t":"2018-11-21T00:00","m2":-3.2,"m3":-10.6,"m4":-10.9,"m5":-5.9,"m6":9.8},
{"t":"2018-11-22T00:00","m2":-3.3,"m3":-10.7,"m4":-11,"m5":-6,"m6":9.7},
{"t":"2018-11-23T00:00","m2":-3.8,"m3":-11.2,"m4":-11.5,"m5":-6.5,"m6":9.2},
{"t":"2018-11-24T00:00","m2":-3.6,"m3":-11,"m4":-11.3,"m5":-6.3,"m6":9.4},
{"t":"2018-11-24T12:00","m2":-4.5,"m3":-11.9,"m4":-12.2,"m5":-7.2,"m6":8.5},
{"t":"2018-11-25T05:00","m2":null,"m3":null,"m4":null,"m5":null,"m6":null},
{"t":"2018-11-25T22:00","m2":-2,"m3":-8.1,"m4":-8.4,"m5":-4.1,"m6":10.5},
{"t":"2018-11-26T12:00","m2":-3.1,"m3":-9.2,"m4":-9.5,"m5":-5.2,"m6":9.4},
{"t":"2018-11-27T00:00","m2":-3.3,"m3":-9.4,"m4":-9.7,"m5":-5.4,"m6":9.2},
{"t":"2018-11-27T12:00","m2":-0.2,"m3":-6.3,"m4":-6.6,"m5":-2.3,"m6":12.3},
{"t":"2018-11-28T00:00","m2":-1.3,"m3":-7.4,"m4":-7.7,"m5":-3.4,"m6":11.2},
{"t":"2018-11-29T00:00","m2":-2.2,"m3":-8.3,"m4":-8.6,"m5":-4.3,"m6":10.3},
{"t":"2018-11-30T00:00","m2":-1.5,"m3":-7.6,"m4":-7.9,"m5":-3.6,"m6":11},
{"t":"2018-12-01T00:00","m2":-2.3,"m3":-8.4,"m4":-8.7,"m5":-4.4,"m6":10.2},
{"t":"2018-12-02T00:00","m2":-1.9,"m3":-8,"m4":-8.3,"m5":-4,"m6":10.6},
{"t":"2018-12-02T14:00","m2":-0.5,"m3":-6.6,"m4":-6.9,"m5":-2.6,"m6":12},
{"t":"2018-12-03T14:00","m2":-2.3,"m3":-8.4,"m4":-8.7,"m5":-4.4,"m6":10.2},
{"t":"2018-12-04T19:00","m2":-4.1,"m3":-10.2,"m4":-10.5,"m5":-6.2,"m6":8.4},
{"t":"2018-12-06T00:00","m2":-2.7,"m3":-8.8,"m4":-9.1,"m5":-4.8,"m6":9.8},
{"t":"2018-12-07T00:00","m2":-3.3,"m3":-9.4,"m4":-9.7,"m5":-5.4,"m6":9.2},
{"t":"2018-12-08T07:00","m2":-4,"m3":-10.1,"m4":-10.4,"m5":-6.1,"m6":8.5},
{"t":"2018-12-09T07:00","m2":-2.3,"m3":-8.4,"m4":-8.7,"m5":-4.4,"m6":10.2},
{"t":"2018-12-10T12:00","m2":-0.9,"m3":-7,"m4":-7.3,"m5":-3,"m6":11.6},
{"t":"2018-12-11T07:00","m2":-3,"m3":-9.1,"m4":-9.4,"m5":-5.1,"m6":9.5},
{"t":"2018-12-12T07:00","m2":-3.3,"m3":-9.4,"m4":-9.7,"m5":-5.4,"m6":9.2},
{"t":"2018-12-13T07:00","m2":-1.9,"m3":-8,"m4":-8.3,"m5":-4,"m6":10.6},
{"t":"2018-12-14T07:00","m2":-1.6,"m3":-7.7,"m4":-8,"m5":-3.7,"m6":10.9},
{"t":"2018-12-15T00:00","m2":-2.3,"m3":-8.4,"m4":-8.7,"m5":-4.4,"m6":10.2},
{"t":"2018-12-16T00:00","m2":-4.8,"m3":-10.9,"m4":-11.2,"m5":-6.9,"m6":7.7},
{"t":"2018-12-16T22:00","m2":-1.4,"m3":-7.5,"m4":-7.8,"m5":-3.5,"m6":11.1},
{"t":"2018-12-18T02:00","m2":-2.3,"m3":-8.4,"m4":-8.7,"m5":-4.4,"m6":10.2},
{"t":"2018-12-18T22:00","m2":1,"m3":-5.1,"m4":-5.4,"m5":-1.1,"m6":13.5},
{"t":"2018-12-19T17:00","m2":-0.3,"m3":-6.4,"m4":-6.7,"m5":-2.4,"m6":12.2},
{"t":"2018-12-20T10:00","m2":-1.5,"m3":-7.6,"m4":-7.9,"m5":-3.6,"m6":11}
],
"p19":[
{"t":"2018-11-05T00:00","m2":10,"m3":10,"m4":10,"m5":10,"m6":9},
{"t":"2018-11-05T12:00","m2":17.4,"m3":17.4,"m4":17.4,"m5":17.4,"m6":17.4},
{"t":"2018-11-06T00:00","m2":10.4,"m3":10.4,"m4":10.4,"m5":10.4,"m6":10.4},
{"t":"2018-11-06T12:00","m2":17.4,"m3":17.4,"m4":17.4,"m5":17.4,"m6":17.4},
{"t":"2018-11-07T00:00","m2":11.5,"m3":11.5,"m4":11,"m5":12,"m6":13},
{"t":"2018-11-07T12:00","m2":8.5,"m3":5,"m4":3.5,"m5":8.5,"m6":12.8},
{"t":"2018-11-08T00:00","m2":4.5,"m3":-5,"m4":-9,"m5":2,"m6":12.5},
{"t":"2018-11-08T12:00","m2":0,"m3":-14,"m4":-19,"m5":-5,"m6":14},
{"t":"2018-11-09T00:00","m2":-2,"m3":-19,"m4":-26,"m5":-9.5,"m6":12},
{"t":"2018-11-09T08:00","m2":-3.5,"m3":-22.2,"m4":-30,"m5":-12.6,"m6":9.5},
{"t":"2018-11-09T17:00","m2":-2.5,"m3":-14,"m4":-18,"m5":-8,"m6":11.3},
{"t":"2018-11-10T05:00","m2":-2.2,"m3":-8.5,"m4":-9.5,"m5":-5.5,"m6":11},
{"t":"2018-11-10T17:00","m2":-2.2,"m3":-6.5,"m4":-7.4,"m5":-4.8,"m6":10.8},
{"t":"2018-11-11T05:00","m2":-2,"m3":-5.8,"m4":-7,"m5":-4.6,"m6":10.4},
{"t":"2018-11-11T17:00","m2":-2.2,"m3":-5.5,"m4":-6.8,"m5":-4.6,"m6":10.2},
{"t":"2018-11-12T05:00","m2":-2.4,"m3":-5.2,"m4":-6.5,"m5":-4.8,"m6":10},
{"t":"2018-11-12T17:00","m2":-3.5,"m3":-6,"m4":-7.5,"m5":-5.5,"m6":8},
{"t":"2018-11-13T02:00","m2":-4.5,"m3":-7.4,"m4":-9.1,"m5":-6.5,"m6":6.5},
{"t":"2018-11-13T07:00","m2":2,"m3":-1.9,"m4":-3.2,"m5":-0.6,"m6":11.2},
{"t":"2018-11-14T00:00","m2":2.3,"m3":-1.6,"m4":-2.9,"m5":-0.3,"m6":11.5},
{"t":"2018-11-15T00:00","m2":1.7,"m3":-2.2,"m4":-3.5,"m5":-0.9,"m6":10.9},
{"t":"2018-11-16T00:00","m2":0.5,"m3":-3.4,"m4":-4.7,"m5":-2.1,"m6":9.7},
{"t":"2018-11-17T00:00","m2":1.4,"m3":-2.5,"m4":-3.8,"m5":-1.2,"m6":10.6},
{"t":"2018-11-18T00:00","m2":0.7,"m3":-3.2,"m4":-4.5,"m5":-1.9,"m6":9.9},
{"t":"2018-11-19T00:00","m2":1.5,"m3":-2.4,"m4":-3.7,"m5":-1.1,"m6":10.7},
{"t":"2018-11-20T00:00","m2":3.9,"m3":0,"m4":-1.3,"m5":1.3,"m6":13.1},
{"t":"2018-11-21T00:00","m2":1.5,"m3":-2.4,"m4":-3.7,"m5":-1.1,"m6":10.7},
{"t":"2018-11-22T00:00","m2":1.4,"m3":-2.5,"m4":-3.8,"m5":-1.2,"m6":10.6},
{"t":"2018-11-23T00:00","m2":0.9,"m3":-3,"m4":-4.3,"m5":-1.7,"m6":10.1},
{"t":"2018-11-24T00:00","m2":1.1,"m3":-2.8,"m4":-4.1,"m5":-1.5,"m6":10.3},
{"t":"2018-11-24T12:00","m2":0.2,"m3":-3.7,"m4":-5,"m5":-2.4,"m6":9.4},
{"t":"2018-11-25T05:00","m2":null,"m3":null,"m4":null,"m5":null,"m6":null},
{"t":"2018-11-25T22:00","m2":2.8,"m3":-0.7,"m4":-1.5,"m5":1.2,"m6":10.6},
{"t":"2018-11-26T12:00","m2":1.7,"m3":-1.8,"m4":-2.6,"m5":0.1,"m6":9.5},
{"t":"2018-11-27T00:00","m2":1.5,"m3":-2,"m4":-2.8,"m5":-0.1,"m6":9.3},
{"t":"2018-11-27T12:00","m2":4.6,"m3":1.1,"m4":0.3,"m5":3,"m6":12.4},
{"t":"2018-11-28T00:00","m2":3.5,"m3":0,"m4":-0.8,"m5":1.9,"m6":11.3},
{"t":"2018-11-29T00:00","m2":2.6,"m3":-0.9,"m4":-1.7,"m5":1,"m6":10.4},
{"t":"2018-11-30T00:00","m2":3.3,"m3":-0.2,"m4":-1,"m5":1.7,"m6":11.1},
{"t":"2018-12-01T00:00","m2":2.5,"m3":-1,"m4":-1.8,"m5":0.9,"m6":10.3},
{"t":"2018-12-02T00:00","m2":2.9,"m3":-0.6,"m4":-1.4,"m5":1.3,"m6":10.7},
{"t":"2018-12-02T14:00","m2":4.3,"m3":0.8,"m4":0,"m5":2.7,"m6":12.1},
{"t":"2018-12-03T14:00","m2":2.5,"m3":-1,"m4":-1.8,"m5":0.9,"m6":10.3},
{"t":"2018-12-04T19:00","m2":0.7,"m3":-2.8,"m4":-3.6,"m5":-0.9,"m6":8.5},
{"t":"2018-12-06T00:00","m2":2.1,"m3":-1.4,"m4":-2.2,"m5":0.5,"m6":9.9},
{"t":"2018-12-07T00:00","m2":1.5,"m3":-2,"m4":-2.8,"m5":-0.1,"m6":9.3},
{"t":"2018-12-08T07:00","m2":0.8,"m3":-2.7,"m4":-3.5,"m5":-0.8,"m6":8.6},
{"t":"2018-12-09T07:00","m2":2.5,"m3":-1,"m4":-1.8,"m5":0.9,"m6":10.3},
{"t":"2018-12-10T12:00","m2":3.9,"m3":0.4,"m4":-0.4,"m5":2.3,"m6":11.7},
{"t":"2018-12-11T07:00","m2":1.8,"m3":-1.7,"m4":-2.5,"m5":0.2,"m6":9.6},
{"t":"2018-12-12T07:00","m2":1.5,"m3":-2,"m4":-2.8,"m5":-0.1,"m6":9.3},
{"t":"2018-12-13T07:00","m2":2.9,"m3":-0.6,"m4":-1.4,"m5":1.3,"m6":10.7},
{"t":"2018-12-14T07:00","m2":3.2,"m3":-0.3,"m4":-1.1,"m5":1.6,"m6":11},
{"t":"2018-12-15T00:00","m2":2.5,"m3":-1,"m4":-1.8,"m5":0.9,"m6":10.3},
{"t":"2018-12-16T00:00","m2":0,"m3":-3.5,"m4":-4.3,"m5":-1.6,"m6":7.8},
{"t":"2018-12-16T22:00","m2":3.4,"m3":-0.1,"m4":-0.9,"m5":1.8,"m6":11.2},
{"t":"2018-12-18T02:00","m2":2.5,"m3":-1,"m4":-1.8,"m5":0.9,"m6":10.3},
{"t":"2018-12-18T22:00","m2":5.8,"m3":2.3,"m4":1.5,"m5":4.2,"m6":13.6},
{"t":"2018-12-19T17:00","m2":4.5,"m3":1,"m4":0.2,"m5":2.9,"m6":12.3},
{"t":"2018-12-20T10:00","m2":3.3,"m3":-0.2,"m4":-1,"m5":1.7,"m6":11.1}
],
"p20":[
{"t":"2018-11-05T00:00","m2":10,"m3":10,"m4":10,"m5":10,"m6":9},
{"t":"2018-11-05T12:00","m2":17.6,"m3":17.6,"m4":17.6,"m5":17.6,"m6":17.6},
{"t":"2018-11-06T00:00","m2":10,"m3":10,"m4":10,"m5":10,"m6":10},
{"t":"2018-11-06T12:00","m2":17.4,"m3":17.4,"m4":17.4,"m5":17.4,"m6":17.4},
{"t":"2018-11-07T00:00","m2":14,"m3":13,"m4":12.5,"m5":13,"m6":13.5},
{"t":"2018-11-07T12:00","m2":12.3,"m3":8,"m4":7.5,"m5":9,"m6":13.3},
{"t":"2018-11-08T00:00","m2":9.5,"m3":3.5,"m4":2.5,"m5":5,"m6":12.5},
{"t":"2018-11-08T12:00","m2":5,"m3":-7.5,"m4":-11.5,"m5":-4.5,"m6":12},
{"t":"2018-11-09T00:00","m2":2,"m3":-16,"m4":-24,"m5":-12.5,"m6":11.7},
{"t":"2018-11-09T08:00","m2":1,"m3":-19,"m4":-29.6,"m5":-15.7,"m6":11.5},
{"t":"2018-11-09T17:00","m2":0.2,"m3":-13,"m4":-20,"m5":-10,"m6":11.2},
{"t":"2018-11-10T05:00","m2":0,"m3":-8,"m4":-12.5,"m5":-6.5,"m6":10.9},
{"t":"2018-11-10T17:00","m2":0.2,"m3":-6,"m4":-8.5,"m5":-4.5,"m6":10.5},
{"t":"2018-11-11T05:00","m2":0.4,"m3":-5.2,"m4":-7,"m5":-3.5,"m6":10},
{"t":"2018-11-11T17:00","m2":0.6,"m3":-5,"m4":-6.5,"m5":-3.5,"m6":9.5},
{"t":"2018-11-12T05:00","m2":0.9,"m3":-5,"m4":-6.1,"m5":-3.8,"m6":9},
{"t":"2018-11-12T17:00","m2":-2.6,"m3":-6,"m4":-7.5,"m5":-5,"m6":8.5},
{"t":"2018-11-13T02:00","m2":-2.6,"m3":-7.8,"m4":-9.6,"m5":-7.4,"m6":5.7},
{"t":"2018-11-13T07:00","m2":3.6,"m3":-1.9,"m4":-4,"m5":-1.3,"m6":10.7},
{"t":"2018-11-14T00:00","m2":3.9,"m3":-1.6,"m4":-3.7,"m5":-1,"m6":11},
{"t":"2018-11-15T00:00","m2":3.3,"m3":-2.2,"m4":-4.3,"m5":-1.6,"m6":10.4},
{"t":"2018-11-16T00:00","m2":2.1,"m3":-3.4,"m4":-5.5,"m5":-2.8,"m6":9.2},
{"t":"2018-11-17T00:00","m2":3,"m3":-2.5,"m4":-4.6,"m5":-1.9,"m6":10.1},
{"t":"2018-11-18T00:00","m2":2.3,"m3":-3.2,"m4":-5.3,"m5":-2.6,"m6":9.4},
{"t":"2018-11-19T00:00","m2":3.1,"m3":-2.4,"m4":-4.5,"m5":-1.8,"m6":10.2},
{"t":"2018-11-20T00:00","m2":5.5,"m3":0,"m4":-2.1,"m5":0.6,"m6":12.6},
{"t":"2018-11-21T00:00","m2":3.1,"m3":-2.4,"m4":-4.5,"m5":-1.8,"m6":10.2},
{"t":"2018-11-22T00:00","m2":3,"m3":-2.5,"m4":-4.6,"m5":-1.9,"m6":10.1},
{"t":"2018-11-23T00:00","m2":2.5,"m3":-3,"m4":-5.1,"m5":-2.4,"m6":9.6},
{"t":"2018-11-24T00:00","m2":2.7,"m3":-2.8,"m4":-4.9,"m5":-2.2,"m6":9.8},
{"t":"2018-11-24T12:00","m2":1.8,"m3":-3.7,"m4":-5.8,"m5":-3.1,"m6":8.9},
{"t":"2018-11-25T05:00","m2":null,"m3":null,"m4":null,"m5":null,"m6":null},
{"t":"2018-11-25T22:00","m2":4,"m3":-1.1,"m4":-2.8,"m5":-0.8,"m6":11},
{"t":"2018-11-26T12:00","m2":2.9,"m3":-2.2,"m4":-3.9,"m5":-1.9,"m6":9.9},
{"t":"2018-11-27T00:00","m2":2.7,"m3":-2.4,"m4":-4.1,"m5":-2.1,"m6":9.7},
{"t":"2018-11-27T12:00","m2":5.8,"m3":0.7,"m4":-1,"m5":1,"m6":12.8},
{"t":"2018-11-28T00:00","m2":4.7,"m3":-0.4,"m4":-2.1,"m5":-0.1,"m6":11.7},
{"t":"2018-11-29T00:00","m2":3.8,"m3":-1.3,"m4":-3,"m5":-1,"m6":10.8},
{"t":"2018-11-30T00:00","m2":4.5,"m3":-0.6,"m4":-2.3,"m5":-0.3,"m6":11.5},
{"t":"2018-12-01T00:00","m2":3.7,"m3":-1.4,"m4":-3.1,"m5":-1.1,"m6":10.7},
{"t":"2018-12-02T00:00","m2":4.1,"m3":-1,"m4":-2.7,"m5":-0.7,"m6":11.1},
{"t":"2018-12-02T14:00","m2":5.5,"m3":0.4,"m4":-1.3,"m5":0.7,"m6":12.5},
{"t":"2018-12-03T14:00","m2":3.7,"m3":-1.4,"m4":-3.1,"m5":-1.1,"m6":10.7},
{"t":"2018-12-04T19:00","m2":1.9,"m3":-3.2,"m4":-4.9,"m5":-2.9,"m6":8.9},
{"t":"2018-12-06T00:00","m2":3.3,"m3":-1.8,"m4":-3.5,"m5":-1.5,"m6":10.3},
{"t":"2018-12-07T00:00","m2":2.7,"m3":-2.4,"m4":-4.1,"m5":-2.1,"m6":9.7},
{"t":"2018-12-08T07:00","m2":2,"m3":-3.1,"m4":-4.8,"m5":-2.8,"m6":9},
{"t":"2018-12-09T07:00","m2":3.7,"m3":-1.4,"m4":-3.1,"m5":-1.1,"m6":10.7},
{"t":"2018-12-10T12:00","m2":5.1,"m3":0,"m4":-1.7,"m5":0.3,"m6":12.1},
{"t":"2018-12-11T07:00","m2":3,"m3":-2.1,"m4":-3.8,"m5":-1.8,"m6":10},
{"t":"2018-12-12T07:00","m2":2.7,"m3":-2.4,"m4":-4.1,"m5":-2.1,"m6":9.7},
{"t":"2018-12-13T07:00","m2":4.1,"m3":-1,"m4":-2.7,"m5":-0.7,"m6":11.1},
{"t":"2018-12-14T07:00","m2":4.4,"m3":-0.7,"m4":-2.4,"m5":-0.4,"m6":11.4},
{"t":"2018-12-15T00:00","m2":3.7,"m3":-1.4,"m4":-3.1,"m5":-1.1,"m6":10.7},
{"t":"2018-12-16T00:00","m2":1.2,"m3":-3.9,"m4":-5.6,"m5":-3.6,"m6":8.2},
{"t":"2018-12-16T22:00","m2":4.6,"m3":-0.5,"m4":-2.2,"m5":-0.2,"m6":11.6},
{"t":"2018-12-18T02:00","m2":3.7,"m3":-1.4,"m4":-3.1,"m5":-1.1,"m6":10.7},
{"t":"2018-12-18T22:00","m2":7,"m3":1.9,"m4":0.2,"m5":2.2,"m6":14},
{"t":"2018-12-19T17:00","m2":5.7,"m3":0.6,"m4":-1.1,"m5":0.9,"m6":12.7},
{"t":"2018-12-20T10:00","m2":4.5,"m3":-0.6,"m4":-2.3,"m5":-0.3,"m6":11.5}
],
"p21":[
{"t":"2018-11-05T00:00","m2":10,"m3":10,"m4":10,"m5":10,"m6":9},
{"t":"2018-11-05T12:00","m2":17,"m3":17,"m4":17,"m5":17,"m6":17},
{"t":"2018-11-06T00:00","m2":9.7,"m3":9.7,"m4":9.7,"m5":9.7,"m6":9.7},
{"t":"2018-11-06T12:00","m2":17,"m3":17,"m4":17,"m5":17,"m6":17},
{"t":"2018-11-07T00:00","m2":12.5,"m3":12,"m4":12,"m5":12,"m6":13},
{"t":"2018-11-07T12:00","m2":15.4,"m3":13,"m4":13,"m5":13.5,"m6":13.5},
{"t":"2018-11-08T00:00","m2":13,"m3":12,"m4":11.5,"m5":12.5,"m6":13},
{"t":"2018-11-08T12:00","m2":11.8,"m3":7.5,"m4":6.5,"m5":9,"m6":12.8},
{"t":"2018-11-09T00:00","m2":10.5,"m3":3,"m4":1.5,"m5":6.5,"m6":12.2},
{"t":"2018-11-09T08:00","m2":9.7,"m3":0.6,"m4":-2.4,"m5":4.5,"m6":11.8},
{"t":"2018-11-09T17:00","m2":9,"m3":0,"m4":-2.2,"m5":3.5,"m6":11.5},
{"t":"2018-11-10T05:00","m2":8,"m3":-0.3,"m4":-2,"m5":2.3,"m6":11.2},
{"t":"2018-11-10T17:00","m2":7,"m3":-0.3,"m4":-1.5,"m5":2.2,"m6":10.8},
{"t":"2018-11-11T05:00","m2":5.8,"m3":-0.3,"m4":-1.5,"m5":2,"m6":10.4},
{"t":"2018-11-11T17:00","m2":5.3,"m3":-0.5,"m4":-1.6,"m5":1.8,"m6":10},
{"t":"2018-11-12T05:00","m2":5,"m3":-1.1,"m4":-1.9,"m5":1,"m6":9.3},
{"t":"2018-11-12T17:00","m2":2.5,"m3":-1.8,"m4":-2.5,"m5":0.5,"m6":7.6},
{"t":"2018-11-13T02:00","m2":1,"m3":-4.2,"m4":-5,"m5":-2,"m6":6.3},
{"t":"2018-11-13T07:00","m2":6.6,"m3":1.8,"m4":0.3,"m5":3.8,"m6":11.6},
{"t":"2018-11-14T00:00","m2":6.9,"m3":2.1,"m4":0.6,"m5":4.1,"m6":11.9},
{"t":"2018-11-15T00:00","m2":6.3,"m3":1.5,"m4":0,"m5":3.5,"m6":11.3},
{"t":"2018-11-16T00:00","m2":5.1,"m3":0.3,"m4":-1.2,"m5":2.3,"m6":10.1},
{"t":"2018-11-17T00:00","m2":6,"m3":1.2,"m4":-0.3,"m5":3.2,"m6":11},
{"t":"2018-11-18T00:00","m2":5.3,"m3":0.5,"m4":-1,"m5":2.5,"m6":10.3},
{"t":"2018-11-19T00:00","m2":6.1,"m3":1.3,"m4":-0.2,"m5":3.3,"m6":11.1},
{"t":"2018-11-20T00:00","m2":8.5,"m3":3.7,"m4":2.2,"m5":5.7,"m6":13.5},
{"t":"2018-11-21T00:00","m2":6.1,"m3":1.3,"m4":-0.2,"m5":3.3,"m6":11.1},
{"t":"2018-11-22T00:00","m2":6,"m3":1.2,"m4":-0.3,"m5":3.2,"m6":11},
{"t":"2018-11-23T00:00","m2":5.5,"m3":0.7,"m4":-0.8,"m5":2.7,"m6":10.5},
{"t":"2018-11-24T00:00","m2":5.7,"m3":0.9,"m4":-0.6,"m5":2.9,"m6":10.7},
{"t":"2018-11-24T12:00","m2":4.8,"m3":0,"m4":-1.5,"m5":2,"m6":9.8},
{"t":"2018-11-25T05:00","m2":null,"m3":null,"m4":null,"m5":null,"m6":null},
{"t":"2018-11-25T22:00","m2":6.2,"m3":2.5,"m4":1,"m5":4.2,"m6":11.2},
{"t":"2018-11-26T12:00","m2":5.1,"m3":1.4,"m4":-0.1,"m5":3.1,"m6":10.1},
{"t":"2018-11-27T00:00","m2":4.9,"m3":1.2,"m4":-0.3,"m5":2.9,"m6":9.9},
{"t":"2018-11-27T12:00","m2":8,"m3":4.3,"m4":2.8,"m5":6,"m6":13},
{"t":"2018-11-28T00:00","m2":6.9,"m3":3.2,"m4":1.7,"m5":4.9,"m6":11.9},
{"t":"2018-11-29T00:00","m2":6,"m3":2.3,"m4":0.8,"m5":4,"m6":11},
{"t":"2018-11-30T00:00","m2":6.7,"m3":3,"m4":1.5,"m5":4.7,"m6":11.7},
{"t":"2018-12-01T00:00","m2":5.9,"m3":2.2,"m4":0.7,"m5":3.9,"m6":10.9},
{"t":"2018-12-02T00:00","m2":6.3,"m3":2.6,"m4":1.1,"m5":4.3,"m6":11.3},
{"t":"2018-12-02T14:00","m2":7.7,"m3":4,"m4":2.5,"m5":5.7,"m6":12.7},
{"t":"2018-12-03T14:00","m2":5.9,"m3":2.2,"m4":0.7,"m5":3.9,"m6":10.9},
{"t":"2018-12-04T19:00","m2":4.1,"m3":0.4,"m4":-1.1,"m5":2.1,"m6":9.1},
{"t":"2018-12-06T00:00","m2":5.5,"m3":1.8,"m4":0.3,"m5":3.5,"m6":10.5},
{"t":"2018-12-07T00:00","m2":4.9,"m3":1.2,"m4":-0.3,"m5":2.9,"m6":9.9},
{"t":"2018-12-08T07:00","m2":4.2,"m3":0.5,"m4":-1,"m5":2.2,"m6":9.2},
{"t":"2018-12-09T07:00","m2":5.9,"m3":2.2,"m4":0.7,"m5":3.9,"m6":10.9},
{"t":"2018-12-10T12:00","m2":7.3,"m3":3.6,"m4":2.1,"m5":5.3,"m6":12.3},
{"t":"2018-12-11T07:00","m2":5.2,"m3":1.5,"m4":0,"m5":3.2,"m6":10.2},
{"t":"2018-12-12T07:00","m2":4.9,"m3":1.2,"m4":-0.3,"m5":2.9,"m6":9.9},
{"t":"2018-12-13T07:00","m2":6.3,"m3":2.6,"m4":1.1,"m5":4.3,"m6":11.3},
{"t":"2018-12-14T07:00","m2":6.6,"m3":2.9,"m4":1.4,"m5":4.6,"m6":11.6},
{"t":"2018-12-15T00:00","m2":5.9,"m3":2.2,"m4":0.7,"m5":3.9,"m6":10.9},
{"t":"2018-12-16T00:00","m2":3.4,"m3":-0.3,"m4":-1.8,"m5":1.4,"m6":8.4},
{"t":"2018-12-16T22:00","m2":6.8,"m3":3.1,"m4":1.6,"m5":4.8,"m6":11.8},
{"t":"2018-12-18T02:00","m2":5.9,"m3":2.2,"m4":0.7,"m5":3.9,"m6":10.9},
{"t":"2018-12-18T22:00","m2":9.2,"m3":5.5,"m4":4,"m5":7.2,"m6":14.2},
{"t":"2018-12-19T17:00","m2":7.9,"m3":4.2,"m4":2.7,"m5":5.9,"m6":12.9},
{"t":"2018-12-20T10:00","m2":6.7,"m3":3,"m4":1.5,"m5":4.7,"m6":11.7}
]
},
"concat":[
{"width":452,"height":229,"data":{"name":"p15"},"layer":[
{"transform":[{"fold":["m2","m3","m4","m5","m6"],"as":["depth","temp"]}],"mark":{"type":"line","strokeWidth":1.4,"clip":true,"invalid":"break-paths-show-domains"},"encoding":{"x":{"field":"t","type":"temporal","scale":{"domain":[{"year":2018,"month":11,"date":5,"hours":0},{"year":2018,"month":12,"date":20,"hours":14}],"nice":false},"axis":{"values":[{"year":2018,"month":11,"date":20},{"year":2018,"month":11,"date":30},{"year":2018,"month":12,"date":10},{"year":2018,"month":12,"date":20}],"labels":false,"title":null}},"y":{"field":"temp","type":"quantitative","scale":{"domain":[-40,20],"nice":false},"axis":{"values":[-40,-30,-20,-10,0,10,20],"title":"Temperature (°C)"}},"color":{"field":"depth","type":"nominal","scale":{"domain":["m2","m3","m4","m5","m6"],"range":["#000000","#ff0000","#ff00ff","#0000ff","#00dd00"]},"legend":{"title":null,"labelExpr":"replace(datum.label,'m','')+'.0m'"}},"strokeDash":{"field":"depth","type":"nominal","scale":{"domain":["m2","m3","m4","m5","m6"],"range":[[1,0],[6,2,1,2],[1,1.6],[5,3],[1,0]]},"legend":{"title":null,"labelExpr":"replace(datum.label,'m','')+'.0m'"}}}},
{"data":{"values":[{}]},"mark":{"type":"rule","color":"#555555","strokeDash":[4,3],"strokeWidth":1},"encoding":{"y":{"datum":0,"type":"quantitative","axis":null}}},
{"data":{"values":[{"t":"2018-11-06T06:00","v":-36,"label":"(a) Pipe 15 (D=0.25 m)"}]},"mark":{"type":"text","align":"left","baseline":"middle","fontSize":17,"fontWeight":"bold","font":"Liberation Sans","color":"#000000"},"encoding":{"x":{"field":"t","type":"temporal","scale":{"domain":[{"year":2018,"month":11,"date":5,"hours":0},{"year":2018,"month":12,"date":20,"hours":14}],"nice":false},"axis":{"orient":"top","labels":false,"title":null,"values":[{"year":2018,"month":11,"date":20},{"year":2018,"month":11,"date":30},{"year":2018,"month":12,"date":10},{"year":2018,"month":12,"date":20}]}},"y":{"field":"v","type":"quantitative","scale":{"domain":[-40,20],"nice":false},"axis":{"orient":"right","labels":false,"title":null,"values":[-40,-30,-20,-10,0,10,20]}},"text":{"field":"label"}}}
],"resolve":{"axis":{"x":"independent","y":"independent"}}},
{"width":452,"height":229,"data":{"name":"p16"},"layer":[
{"transform":[{"fold":["m2","m3","m4","m5","m6"],"as":["depth","temp"]}],"mark":{"type":"line","strokeWidth":1.4,"clip":true,"invalid":"break-paths-show-domains"},"encoding":{"x":{"field":"t","type":"temporal","scale":{"domain":[{"year":2018,"month":11,"date":5,"hours":0},{"year":2018,"month":12,"date":20,"hours":14}],"nice":false},"axis":{"values":[{"year":2018,"month":11,"date":20},{"year":2018,"month":11,"date":30},{"year":2018,"month":12,"date":10},{"year":2018,"month":12,"date":20}],"labels":false,"title":null}},"y":{"field":"temp","type":"quantitative","scale":{"domain":[-40,20],"nice":false},"axis":{"values":[-40,-30,-20,-10,0,10,20],"labels":false,"title":null}},"color":{"field":"depth","type":"nominal","scale":{"domain":["m2","m3","m4","m5","m6"],"range":["#000000","#ff0000","#ff00ff","#0000ff","#00dd00"]},"legend":{"title":null,"labelExpr":"replace(datum.label,'m','')+'.0m'"}},"strokeDash":{"field":"depth","type":"nominal","scale":{"domain":["m2","m3","m4","m5","m6"],"range":[[1,0],[6,2,1,2],[1,1.6],[5,3],[1,0]]},"legend":{"title":null,"labelExpr":"replace(datum.label,'m','')+'.0m'"}}}},
{"data":{"values":[{}]},"mark":{"type":"rule","color":"#555555","strokeDash":[4,3],"strokeWidth":1},"encoding":{"y":{"datum":0,"type":"quantitative","axis":null}}},
{"data":{"values":[{"t":"2018-11-13T14:00","v":-35.1,"label":"(e) Pipe 16 (D=0.25m)"}]},"mark":{"type":"text","align":"left","baseline":"middle","fontSize":17,"fontWeight":"bold","font":"Liberation Sans","color":"#000000"},"encoding":{"x":{"field":"t","type":"temporal","scale":{"domain":[{"year":2018,"month":11,"date":5,"hours":0},{"year":2018,"month":12,"date":20,"hours":14}],"nice":false},"axis":{"orient":"top","labels":false,"title":null,"values":[{"year":2018,"month":11,"date":20},{"year":2018,"month":11,"date":30},{"year":2018,"month":12,"date":10},{"year":2018,"month":12,"date":20}]}},"y":{"field":"v","type":"quantitative","scale":{"domain":[-40,20],"nice":false},"axis":{"orient":"right","labels":false,"title":null,"values":[-40,-30,-20,-10,0,10,20]}},"text":{"field":"label"}}}
],"resolve":{"axis":{"x":"independent","y":"independent"}}},
{"width":452,"height":229,"data":{"name":"p14"},"layer":[
{"transform":[{"fold":["m2","m3","m4","m5","m6"],"as":["depth","temp"]}],"mark":{"type":"line","strokeWidth":1.4,"clip":true,"invalid":"break-paths-show-domains"},"encoding":{"x":{"field":"t","type":"temporal","scale":{"domain":[{"year":2018,"month":11,"date":5,"hours":0},{"year":2018,"month":12,"date":20,"hours":14}],"nice":false},"axis":{"values":[{"year":2018,"month":11,"date":20},{"year":2018,"month":11,"date":30},{"year":2018,"month":12,"date":10},{"year":2018,"month":12,"date":20}],"labels":false,"title":null}},"y":{"field":"temp","type":"quantitative","scale":{"domain":[-40,20],"nice":false},"axis":{"values":[-40,-30,-20,-10,0,10,20],"title":"Temperature (°C)"}},"color":{"field":"depth","type":"nominal","scale":{"domain":["m2","m3","m4","m5","m6"],"range":["#000000","#ff0000","#ff00ff","#0000ff","#00dd00"]},"legend":{"title":null,"labelExpr":"replace(datum.label,'m','')+'.0m'"}},"strokeDash":{"field":"depth","type":"nominal","scale":{"domain":["m2","m3","m4","m5","m6"],"range":[[1,0],[6,2,1,2],[1,1.6],[5,3],[1,0]]},"legend":{"title":null,"labelExpr":"replace(datum.label,'m','')+'.0m'"}}}},
{"data":{"values":[{}]},"mark":{"type":"rule","color":"#555555","strokeDash":[4,3],"strokeWidth":1},"encoding":{"y":{"datum":0,"type":"quantitative","axis":null}}},
{"data":{"values":[{"t":"2018-11-06T19:00","v":-35,"label":"(b) Pipe 14 (D=0.5 m)"}]},"mark":{"type":"text","align":"left","baseline":"middle","fontSize":17,"fontWeight":"bold","font":"Liberation Sans","color":"#000000"},"encoding":{"x":{"field":"t","type":"temporal","scale":{"domain":[{"year":2018,"month":11,"date":5,"hours":0},{"year":2018,"month":12,"date":20,"hours":14}],"nice":false},"axis":{"orient":"top","labels":false,"title":null,"values":[{"year":2018,"month":11,"date":20},{"year":2018,"month":11,"date":30},{"year":2018,"month":12,"date":10},{"year":2018,"month":12,"date":20}]}},"y":{"field":"v","type":"quantitative","scale":{"domain":[-40,20],"nice":false},"axis":{"orient":"right","labels":false,"title":null,"values":[-40,-30,-20,-10,0,10,20]}},"text":{"field":"label"}}}
],"resolve":{"axis":{"x":"independent","y":"independent"}}},
{"width":452,"height":229,"data":{"name":"p19"},"layer":[
{"transform":[{"fold":["m2","m3","m4","m5","m6"],"as":["depth","temp"]}],"mark":{"type":"line","strokeWidth":1.4,"clip":true,"invalid":"break-paths-show-domains"},"encoding":{"x":{"field":"t","type":"temporal","scale":{"domain":[{"year":2018,"month":11,"date":5,"hours":0},{"year":2018,"month":12,"date":20,"hours":14}],"nice":false},"axis":{"values":[{"year":2018,"month":11,"date":20},{"year":2018,"month":11,"date":30},{"year":2018,"month":12,"date":10},{"year":2018,"month":12,"date":20}],"labels":false,"title":null}},"y":{"field":"temp","type":"quantitative","scale":{"domain":[-40,20],"nice":false},"axis":{"values":[-40,-30,-20,-10,0,10,20],"labels":false,"title":null}},"color":{"field":"depth","type":"nominal","scale":{"domain":["m2","m3","m4","m5","m6"],"range":["#000000","#ff0000","#ff00ff","#0000ff","#00dd00"]},"legend":{"title":null,"labelExpr":"replace(datum.label,'m','')+'.0m'"}},"strokeDash":{"field":"depth","type":"nominal","scale":{"domain":["m2","m3","m4","m5","m6"],"range":[[1,0],[6,2,1,2],[1,1.6],[5,3],[1,0]]},"legend":{"title":null,"labelExpr":"replace(datum.label,'m','')+'.0m'"}}}},
{"data":{"values":[{}]},"mark":{"type":"rule","color":"#555555","strokeDash":[4,3],"strokeWidth":1},"encoding":{"y":{"datum":0,"type":"quantitative","axis":null}}},
{"data":{"values":[{"t":"2018-11-13T17:00","v":-35.9,"label":"(f) Pipe 19 (D=0.5m)"}]},"mark":{"type":"text","align":"left","baseline":"middle","fontSize":17,"fontWeight":"bold","font":"Liberation Sans","color":"#000000"},"encoding":{"x":{"field":"t","type":"temporal","scale":{"domain":[{"year":2018,"month":11,"date":5,"hours":0},{"year":2018,"month":12,"date":20,"hours":14}],"nice":false},"axis":{"orient":"top","labels":false,"title":null,"values":[{"year":2018,"month":11,"date":20},{"year":2018,"month":11,"date":30},{"year":2018,"month":12,"date":10},{"year":2018,"month":12,"date":20}]}},"y":{"field":"v","type":"quantitative","scale":{"domain":[-40,20],"nice":false},"axis":{"orient":"right","labels":false,"title":null,"values":[-40,-30,-20,-10,0,10,20]}},"text":{"field":"label"}}}
],"resolve":{"axis":{"x":"independent","y":"independent"}}},
{"width":452,"height":229,"data":{"name":"p18"},"layer":[
{"transform":[{"fold":["m2","m3","m4","m5","m6"],"as":["depth","temp"]}],"mark":{"type":"line","strokeWidth":1.4,"clip":true,"invalid":"break-paths-show-domains"},"encoding":{"x":{"field":"t","type":"temporal","scale":{"domain":[{"year":2018,"month":11,"date":5,"hours":0},{"year":2018,"month":12,"date":20,"hours":14}],"nice":false},"axis":{"values":[{"year":2018,"month":11,"date":20},{"year":2018,"month":11,"date":30},{"year":2018,"month":12,"date":10},{"year":2018,"month":12,"date":20}],"labels":false,"title":null}},"y":{"field":"temp","type":"quantitative","scale":{"domain":[-40,20],"nice":false},"axis":{"values":[-40,-30,-20,-10,0,10,20],"title":"Temperature (°C)"}},"color":{"field":"depth","type":"nominal","scale":{"domain":["m2","m3","m4","m5","m6"],"range":["#000000","#ff0000","#ff00ff","#0000ff","#00dd00"]},"legend":{"title":null,"labelExpr":"replace(datum.label,'m','')+'.0m'"}},"strokeDash":{"field":"depth","type":"nominal","scale":{"domain":["m2","m3","m4","m5","m6"],"range":[[1,0],[6,2,1,2],[1,1.6],[5,3],[1,0]]},"legend":{"title":null,"labelExpr":"replace(datum.label,'m','')+'.0m'"}}}},
{"data":{"values":[{}]},"mark":{"type":"rule","color":"#555555","strokeDash":[4,3],"strokeWidth":1},"encoding":{"y":{"datum":0,"type":"quantitative","axis":null}}},
{"data":{"values":[{"t":"2018-11-06T10:00","v":-36.1,"label":"(c) Pipe 18 (D=0.56m)"}]},"mark":{"type":"text","align":"left","baseline":"middle","fontSize":17,"fontWeight":"bold","font":"Liberation Sans","color":"#000000"},"encoding":{"x":{"field":"t","type":"temporal","scale":{"domain":[{"year":2018,"month":11,"date":5,"hours":0},{"year":2018,"month":12,"date":20,"hours":14}],"nice":false},"axis":{"orient":"top","labels":false,"title":null,"values":[{"year":2018,"month":11,"date":20},{"year":2018,"month":11,"date":30},{"year":2018,"month":12,"date":10},{"year":2018,"month":12,"date":20}]}},"y":{"field":"v","type":"quantitative","scale":{"domain":[-40,20],"nice":false},"axis":{"orient":"right","labels":false,"title":null,"values":[-40,-30,-20,-10,0,10,20]}},"text":{"field":"label"}}}
],"resolve":{"axis":{"x":"independent","y":"independent"}}},
{"width":452,"height":229,"data":{"name":"p20"},"layer":[
{"transform":[{"fold":["m2","m3","m4","m5","m6"],"as":["depth","temp"]}],"mark":{"type":"line","strokeWidth":1.4,"clip":true,"invalid":"break-paths-show-domains"},"encoding":{"x":{"field":"t","type":"temporal","scale":{"domain":[{"year":2018,"month":11,"date":5,"hours":0},{"year":2018,"month":12,"date":20,"hours":14}],"nice":false},"axis":{"values":[{"year":2018,"month":11,"date":20},{"year":2018,"month":11,"date":30},{"year":2018,"month":12,"date":10},{"year":2018,"month":12,"date":20}],"labels":false,"title":null}},"y":{"field":"temp","type":"quantitative","scale":{"domain":[-40,20],"nice":false},"axis":{"values":[-40,-30,-20,-10,0,10,20],"labels":false,"title":null}},"color":{"field":"depth","type":"nominal","scale":{"domain":["m2","m3","m4","m5","m6"],"range":["#000000","#ff0000","#ff00ff","#0000ff","#00dd00"]},"legend":{"title":null,"labelExpr":"replace(datum.label,'m','')+'.0m'"}},"strokeDash":{"field":"depth","type":"nominal","scale":{"domain":["m2","m3","m4","m5","m6"],"range":[[1,0],[6,2,1,2],[1,1.6],[5,3],[1,0]]},"legend":{"title":null,"labelExpr":"replace(datum.label,'m','')+'.0m'"}}}},
{"data":{"values":[{}]},"mark":{"type":"rule","color":"#555555","strokeDash":[4,3],"strokeWidth":1},"encoding":{"y":{"datum":0,"type":"quantitative","axis":null}}},
{"data":{"values":[{"t":"2018-11-13T17:00","v":-36.1,"label":"(g) Pipe 20 (D=0.56m)"}]},"mark":{"type":"text","align":"left","baseline":"middle","fontSize":17,"fontWeight":"bold","font":"Liberation Sans","color":"#000000"},"encoding":{"x":{"field":"t","type":"temporal","scale":{"domain":[{"year":2018,"month":11,"date":5,"hours":0},{"year":2018,"month":12,"date":20,"hours":14}],"nice":false},"axis":{"orient":"top","labels":false,"title":null,"values":[{"year":2018,"month":11,"date":20},{"year":2018,"month":11,"date":30},{"year":2018,"month":12,"date":10},{"year":2018,"month":12,"date":20}]}},"y":{"field":"v","type":"quantitative","scale":{"domain":[-40,20],"nice":false},"axis":{"orient":"right","labels":false,"title":null,"values":[-40,-30,-20,-10,0,10,20]}},"text":{"field":"label"}}}
],"resolve":{"axis":{"x":"independent","y":"independent"}}},
{"width":452,"height":229,"data":{"name":"p17"},"layer":[
{"transform":[{"fold":["m2","m3","m4","m5","m6"],"as":["depth","temp"]}],"mark":{"type":"line","strokeWidth":1.4,"clip":true,"invalid":"break-paths-show-domains"},"encoding":{"x":{"field":"t","type":"temporal","scale":{"domain":[{"year":2018,"month":11,"date":5,"hours":0},{"year":2018,"month":12,"date":20,"hours":14}],"nice":false},"axis":{"values":[{"year":2018,"month":11,"date":20},{"year":2018,"month":11,"date":30},{"year":2018,"month":12,"date":10},{"year":2018,"month":12,"date":20}],"labels":false,"title":null}},"y":{"field":"temp","type":"quantitative","scale":{"domain":[-40,20],"nice":false},"axis":{"values":[-40,-30,-20,-10,0,10,20],"title":"Temperature (°C)"}},"color":{"field":"depth","type":"nominal","scale":{"domain":["m2","m3","m4","m5","m6"],"range":["#000000","#ff0000","#ff00ff","#0000ff","#00dd00"]},"legend":{"title":null,"labelExpr":"replace(datum.label,'m','')+'.0m'"}},"strokeDash":{"field":"depth","type":"nominal","scale":{"domain":["m2","m3","m4","m5","m6"],"range":[[1,0],[6,2,1,2],[1,1.6],[5,3],[1,0]]},"legend":{"title":null,"labelExpr":"replace(datum.label,'m','')+'.0m'"}}}},
{"data":{"values":[{}]},"mark":{"type":"rule","color":"#555555","strokeDash":[4,3],"strokeWidth":1},"encoding":{"y":{"datum":0,"type":"quantitative","axis":null}}},
{"data":{"values":[{"t":"2018-11-06T10:00","v":-35.1,"label":"(d) Pipe 17 (D=0.71m)"}]},"mark":{"type":"text","align":"left","baseline":"middle","fontSize":17,"fontWeight":"bold","font":"Liberation Sans","color":"#000000"},"encoding":{"x":{"field":"t","type":"temporal","scale":{"domain":[{"year":2018,"month":11,"date":5,"hours":0},{"year":2018,"month":12,"date":20,"hours":14}],"nice":false},"axis":{"orient":"top","labels":false,"title":null,"values":[{"year":2018,"month":11,"date":20},{"year":2018,"month":11,"date":30},{"year":2018,"month":12,"date":10},{"year":2018,"month":12,"date":20}]}},"y":{"field":"v","type":"quantitative","scale":{"domain":[-40,20],"nice":false},"axis":{"orient":"right","labels":false,"title":null,"values":[-40,-30,-20,-10,0,10,20]}},"text":{"field":"label"}}}
],"resolve":{"axis":{"x":"independent","y":"independent"}}},
{"width":452,"height":229,"data":{"name":"p21"},"layer":[
{"transform":[{"fold":["m2","m3","m4","m5","m6"],"as":["depth","temp"]}],"mark":{"type":"line","strokeWidth":1.4,"clip":true,"invalid":"break-paths-show-domains"},"encoding":{"x":{"field":"t","type":"temporal","scale":{"domain":[{"year":2018,"month":11,"date":5,"hours":0},{"year":2018,"month":12,"date":20,"hours":14}],"nice":false},"axis":{"values":[{"year":2018,"month":11,"date":20},{"year":2018,"month":11,"date":30},{"year":2018,"month":12,"date":10},{"year":2018,"month":12,"date":20}],"format":"%m/%d/%y","title":"Date"}},"y":{"field":"temp","type":"quantitative","scale":{"domain":[-40,20],"nice":false},"axis":{"values":[-40,-30,-20,-10,0,10,20],"labels":false,"title":null}},"color":{"field":"depth","type":"nominal","scale":{"domain":["m2","m3","m4","m5","m6"],"range":["#000000","#ff0000","#ff00ff","#0000ff","#00dd00"]},"legend":{"title":null,"labelExpr":"replace(datum.label,'m','')+'.0m'"}},"strokeDash":{"field":"depth","type":"nominal","scale":{"domain":["m2","m3","m4","m5","m6"],"range":[[1,0],[6,2,1,2],[1,1.6],[5,3],[1,0]]},"legend":{"title":null,"labelExpr":"replace(datum.label,'m','')+'.0m'"}}}},
{"data":{"values":[{}]},"mark":{"type":"rule","color":"#555555","strokeDash":[4,3],"strokeWidth":1},"encoding":{"y":{"datum":0,"type":"quantitative","axis":null}}},
{"data":{"values":[{"t":"2018-11-14T00:00","v":-35.6,"label":"(h) Pipe 21 (D=0.71m)"}]},"mark":{"type":"text","align":"left","baseline":"middle","fontSize":17,"fontWeight":"bold","font":"Liberation Sans","color":"#000000"},"encoding":{"x":{"field":"t","type":"temporal","scale":{"domain":[{"year":2018,"month":11,"date":5,"hours":0},{"year":2018,"month":12,"date":20,"hours":14}],"nice":false},"axis":{"orient":"top","labels":false,"title":null,"values":[{"year":2018,"month":11,"date":20},{"year":2018,"month":11,"date":30},{"year":2018,"month":12,"date":10},{"year":2018,"month":12,"date":20}]}},"y":{"field":"v","type":"quantitative","scale":{"domain":[-40,20],"nice":false},"axis":{"orient":"right","labels":false,"title":null,"values":[-40,-30,-20,-10,0,10,20]}},"text":{"field":"label"}}}
],"resolve":{"axis":{"x":"independent","y":"independent"}}},
{"width":452,"height":229,"data":{"name":"p13"},"layer":[
{"transform":[{"fold":["m2","m3","m4","m5","m6"],"as":["depth","temp"]}],"mark":{"type":"line","strokeWidth":1.4,"clip":true,"invalid":"break-paths-show-domains"},"encoding":{"x":{"field":"t","type":"temporal","scale":{"domain":[{"year":2018,"month":11,"date":5,"hours":0},{"year":2018,"month":12,"date":20,"hours":14}],"nice":false},"axis":{"values":[{"year":2018,"month":11,"date":20},{"year":2018,"month":11,"date":30},{"year":2018,"month":12,"date":10},{"year":2018,"month":12,"date":20}],"format":"%m/%d/%y","title":"Date"}},"y":{"field":"temp","type":"quantitative","scale":{"domain":[-40,20],"nice":false},"axis":{"values":[-40,-30,-20,-10,0,10,20],"title":"Temperature (°C)"}},"color":{"field":"depth","type":"nominal","scale":{"domain":["m2","m3","m4","m5","m6"],"range":["#000000","#ff0000","#ff00ff","#0000ff","#00dd00"]},"legend":{"title":null,"labelExpr":"replace(datum.label,'m','')+'.0m'"}},"strokeDash":{"field":"depth","type":"nominal","scale":{"domain":["m2","m3","m4","m5","m6"],"range":[[1,0],[6,2,1,2],[1,1.6],[5,3],[1,0]]},"legend":{"title":null,"labelExpr":"replace(datum.label,'m','')+'.0m'"}}}},
{"data":{"values":[{}]},"mark":{"type":"rule","color":"#555555","strokeDash":[4,3],"strokeWidth":1},"encoding":{"y":{"datum":0,"type":"quantitative","axis":null}}},
{"data":{"values":[{"t":"2018-11-06T07:00","v":-35,"label":"(e) Pipe 13 (D=0.75m)"}]},"mark":{"type":"text","align":"left","baseline":"middle","fontSize":17,"fontWeight":"bold","font":"Liberation Sans","color":"#000000"},"encoding":{"x":{"field":"t","type":"temporal","scale":{"domain":[{"year":2018,"month":11,"date":5,"hours":0},{"year":2018,"month":12,"date":20,"hours":14}],"nice":false},"axis":{"orient":"top","labels":false,"title":null,"values":[{"year":2018,"month":11,"date":20},{"year":2018,"month":11,"date":30},{"year":2018,"month":12,"date":10},{"year":2018,"month":12,"date":20}]}},"y":{"field":"v","type":"quantitative","scale":{"domain":[-40,20],"nice":false},"axis":{"orient":"right","labels":false,"title":null,"values":[-40,-30,-20,-10,0,10,20]}},"text":{"field":"label"}}}
],"resolve":{"axis":{"x":"independent","y":"independent"}}}
],
"columns":2,
"spacing":{"row":26,"column":60},
"bounds":"flush",
"resolve":{"scale":{"color":"independent","strokeDash":"independent"},"legend":{"color":"independent","strokeDash":"independent"}}
}
